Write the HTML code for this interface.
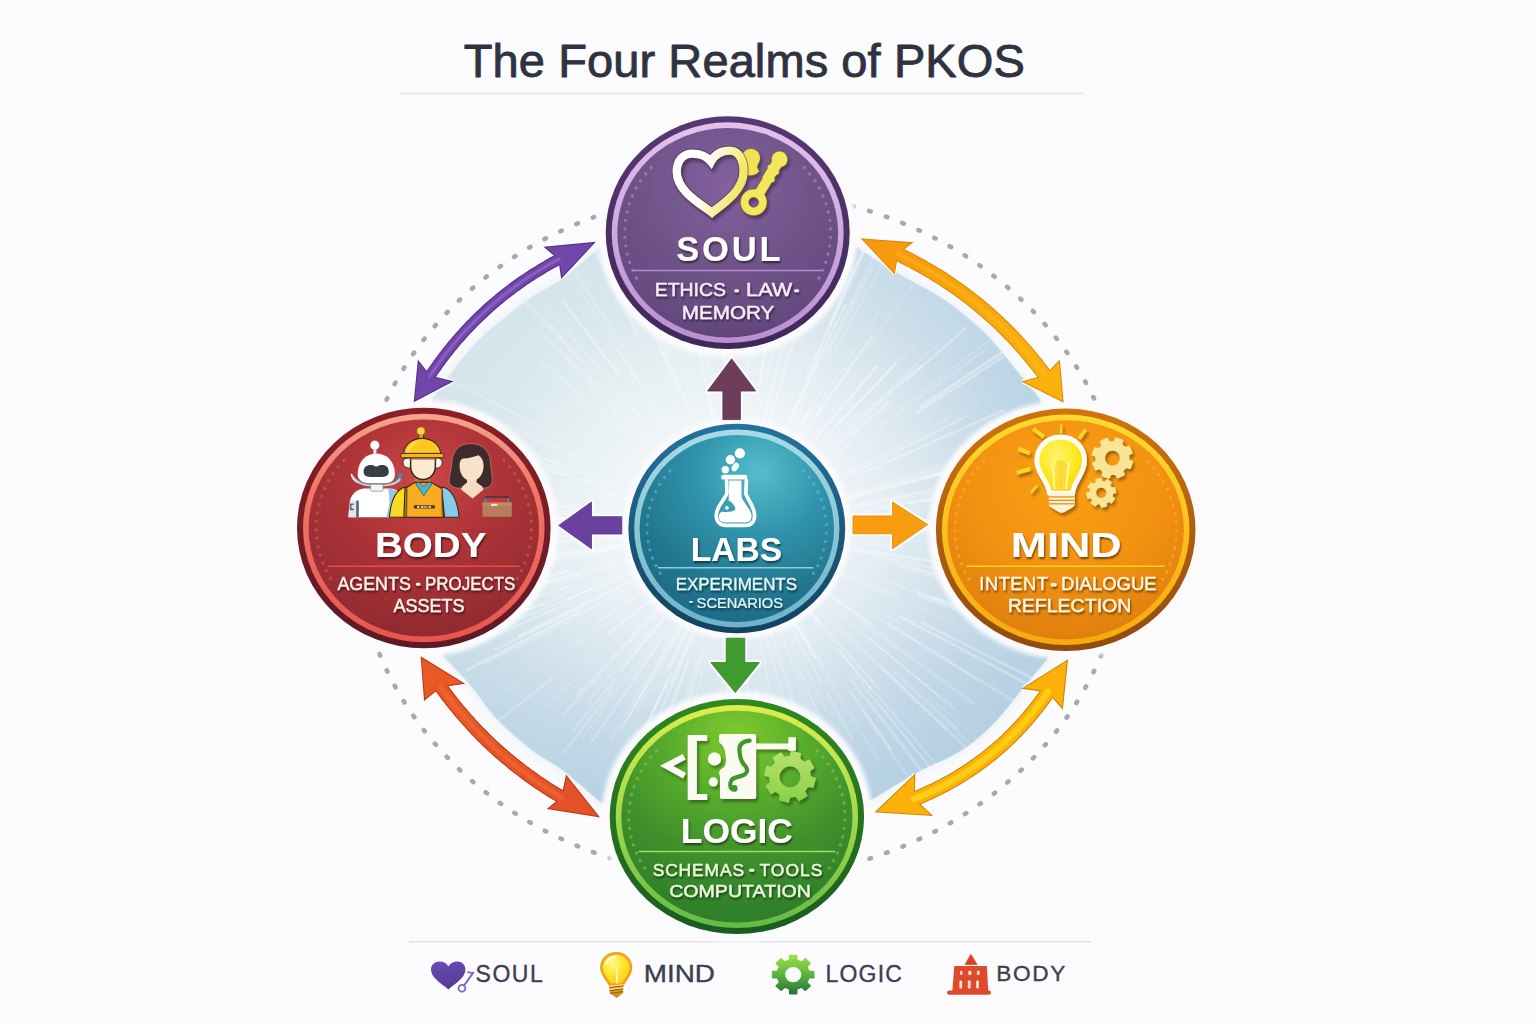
<!DOCTYPE html>
<html lang="en">
<head>
<meta charset="utf-8">
<title>The Four Realms of PKOS</title>
<style>
html,body{margin:0;padding:0;background:#fcfbfd;}
body{width:1536px;height:1024px;overflow:hidden;font-family:"Liberation Sans",sans-serif;}
svg{display:block;}
text{font-family:"Liberation Sans",sans-serif;}
</style>
</head>
<body>
<svg width="1536" height="1024" viewBox="0 0 1536 1024">
<defs>
<radialGradient id="bgGlow" gradientUnits="userSpaceOnUse" cx="737" cy="530" r="335" gradientTransform="translate(0 54.5) scale(1 0.897)">
  <stop offset="0" stop-color="#f8fafc"/>
  <stop offset="0.40" stop-color="#f0f5f8"/>
  <stop offset="0.60" stop-color="#e2ecf2"/>
  <stop offset="0.80" stop-color="#cfe0eb"/>
  <stop offset="1" stop-color="#c0d7e6"/>
</radialGradient>
<filter id="soft" x="-10%" y="-10%" width="120%" height="120%"><feGaussianBlur stdDeviation="3"/></filter>
<linearGradient id="nwLight" gradientUnits="userSpaceOnUse" x1="470" y1="290" x2="980" y2="760">
  <stop offset="0" stop-color="#e6f2ee" stop-opacity="0.55"/>
  <stop offset="0.45" stop-color="#eef6f4" stop-opacity="0.2"/>
  <stop offset="0.7" stop-color="#ffffff" stop-opacity="0"/>
</linearGradient>
<linearGradient id="southBlue" gradientUnits="userSpaceOnUse" x1="0" y1="540" x2="0" y2="820">
  <stop offset="0" stop-color="#a8c8de" stop-opacity="0"/>
  <stop offset="1" stop-color="#a8c8de" stop-opacity="0.5"/>
</linearGradient>
<linearGradient id="eastBlue" gradientUnits="userSpaceOnUse" x1="760" y1="0" x2="1060" y2="0">
  <stop offset="0" stop-color="#a8c8de" stop-opacity="0"/>
  <stop offset="1" stop-color="#a8c8de" stop-opacity="0.3"/>
</linearGradient>
<filter id="soft2" x="-10%" y="-10%" width="120%" height="120%"><feGaussianBlur stdDeviation="2.2"/></filter>
<filter id="halo" x="-20%" y="-20%" width="140%" height="140%"><feGaussianBlur stdDeviation="5"/></filter>
<filter id="blur05" x="-5%" y="-5%" width="110%" height="110%"><feGaussianBlur stdDeviation="0.7"/></filter>
<filter id="blur1" x="-20%" y="-20%" width="140%" height="140%"><feGaussianBlur stdDeviation="1.2"/></filter>
<filter id="blur2" x="-20%" y="-20%" width="140%" height="140%"><feGaussianBlur stdDeviation="2"/></filter>
<filter id="tsh" x="-10%" y="-20%" width="120%" height="150%">
  <feGaussianBlur in="SourceAlpha" stdDeviation="0.8"/><feOffset dx="1.2" dy="1.6"/>
  <feComponentTransfer><feFuncA type="linear" slope="0.55"/></feComponentTransfer>
  <feMerge><feMergeNode/><feMergeNode in="SourceGraphic"/></feMerge>
</filter>
<filter id="ish" x="-20%" y="-20%" width="150%" height="150%">
  <feGaussianBlur in="SourceAlpha" stdDeviation="1.5"/><feOffset dx="2" dy="3"/>
  <feComponentTransfer><feFuncA type="linear" slope="0.35"/></feComponentTransfer>
  <feMerge><feMergeNode/><feMergeNode in="SourceGraphic"/></feMerge>
</filter>

<!-- badge fills -->
<radialGradient id="gSoul" cx="0.5" cy="0.28" r="0.8"><stop offset="0" stop-color="#83609f"/><stop offset="0.45" stop-color="#71558a"/><stop offset="0.8" stop-color="#664a80"/><stop offset="1" stop-color="#5a4076"/></radialGradient>
<radialGradient id="gBody" cx="0.5" cy="0.28" r="0.8"><stop offset="0" stop-color="#cd4746"/><stop offset="0.4" stop-color="#ae3438"/><stop offset="0.75" stop-color="#9b2e33"/><stop offset="1" stop-color="#88282c"/></radialGradient>
<radialGradient id="gMind" cx="0.5" cy="0.28" r="0.8"><stop offset="0" stop-color="#f9a014"/><stop offset="0.5" stop-color="#f39211"/><stop offset="0.85" stop-color="#e3820e"/><stop offset="1" stop-color="#d2780c"/></radialGradient>
<radialGradient id="gLogic" cx="0.5" cy="0.12" r="0.95"><stop offset="0" stop-color="#7fcb2d"/><stop offset="0.3" stop-color="#59ae2c"/><stop offset="0.6" stop-color="#3f902c"/><stop offset="1" stop-color="#2b7a2a"/></radialGradient>
<radialGradient id="gLabs" cx="0.62" cy="0.2" r="0.85"><stop offset="0" stop-color="#54bdcd"/><stop offset="0.4" stop-color="#2f93ab"/><stop offset="0.75" stop-color="#23778f"/><stop offset="1" stop-color="#1c6a88"/></radialGradient>
<!-- light rings -->
<linearGradient id="rSoul" x1="0" y1="0" x2="0" y2="1"><stop offset="0" stop-color="#e3c2ee"/><stop offset="1" stop-color="#b98fd0"/></linearGradient>
<linearGradient id="rBody" x1="0" y1="0" x2="0" y2="1"><stop offset="0" stop-color="#f5a48c"/><stop offset="0.35" stop-color="#f07468"/><stop offset="1" stop-color="#e8544e"/></linearGradient>
<linearGradient id="rMind" x1="0" y1="0" x2="0" y2="1"><stop offset="0" stop-color="#ffd830"/><stop offset="1" stop-color="#f8a80e"/></linearGradient>
<linearGradient id="rLogic" x1="0" y1="0" x2="0" y2="1"><stop offset="0" stop-color="#dbee4c"/><stop offset="0.5" stop-color="#a2da4c"/><stop offset="1" stop-color="#62ba46"/></linearGradient>
<linearGradient id="rLabs" x1="0" y1="0" x2="0" y2="1"><stop offset="0" stop-color="#a8dbe6"/><stop offset="1" stop-color="#6fb3c9"/></linearGradient>
<linearGradient id="dSoul" x1="0" y1="0" x2="0" y2="1"><stop offset="0" stop-color="#563872"/><stop offset="1" stop-color="#3f2859"/></linearGradient>
<linearGradient id="dBody" x1="0" y1="0" x2="0" y2="1"><stop offset="0" stop-color="#8e1e26"/><stop offset="1" stop-color="#5c1a25"/></linearGradient>
<linearGradient id="dMind" x1="0" y1="0" x2="0" y2="1"><stop offset="0" stop-color="#d0740b"/><stop offset="1" stop-color="#8e4b0e"/></linearGradient>
<linearGradient id="dLogic" x1="0" y1="0" x2="0" y2="1"><stop offset="0" stop-color="#30891f"/><stop offset="1" stop-color="#1a5c1f"/></linearGradient>
<linearGradient id="dLabs" x1="0" y1="0" x2="0" y2="1"><stop offset="0" stop-color="#2472a0"/><stop offset="1" stop-color="#12425f"/></linearGradient>
<!-- arrows -->
<linearGradient id="aPurple" x1="0" y1="0" x2="0" y2="1"><stop offset="0" stop-color="#8052b4"/><stop offset="1" stop-color="#5b3a98"/></linearGradient>
<linearGradient id="aOrange" gradientUnits="userSpaceOnUse" x1="863" y1="240" x2="1062" y2="400"><stop offset="0" stop-color="#f7960f"/><stop offset="0.5" stop-color="#f9a60c"/><stop offset="1" stop-color="#fbb40c"/></linearGradient>
<linearGradient id="aRed" gradientUnits="userSpaceOnUse" x1="423" y1="658" x2="597" y2="816"><stop offset="0" stop-color="#ea5a24"/><stop offset="1" stop-color="#e4502a"/></linearGradient>
<linearGradient id="aYellow" gradientUnits="userSpaceOnUse" x1="1066" y1="661" x2="877" y2="812"><stop offset="0" stop-color="#f9a50d"/><stop offset="0.5" stop-color="#fcc512"/><stop offset="1" stop-color="#f8a40c"/></linearGradient>
<!-- icons -->
<linearGradient id="heartStroke" gradientUnits="userSpaceOnUse" x1="690" y1="165" x2="744" y2="182"><stop offset="0" stop-color="#ffffff"/><stop offset="0.35" stop-color="#fffdf0"/><stop offset="0.62" stop-color="#faf3a8"/><stop offset="1" stop-color="#f1e75e"/></linearGradient>
<linearGradient id="gearLg" x1="0" y1="0" x2="0" y2="1"><stop offset="0" stop-color="#9be04a"/><stop offset="0.5" stop-color="#5cb43c"/><stop offset="1" stop-color="#24733a"/></linearGradient>
<radialGradient id="bulbLg" cx="0.42" cy="0.32" r="0.75"><stop offset="0" stop-color="#fff46e"/><stop offset="0.55" stop-color="#fde81c"/><stop offset="1" stop-color="#fbcf12"/></radialGradient>
<linearGradient id="gearLogic" x1="0" y1="0" x2="0" y2="1"><stop offset="0" stop-color="#b6e26c"/><stop offset="1" stop-color="#8cd048"/></linearGradient>
</defs>
<rect width="1536" height="1024" fill="#fcfbfd"/>
<line x1="400" y1="93.5" x2="1084" y2="93.5" stroke="#e4e3e8" stroke-width="1.4"/>
<line x1="409" y1="941.8" x2="1091" y2="941.8" stroke="#e2e1e6" stroke-width="1.6"/>
<clipPath id="clipField"><path d="M432.1 399.4  C436.1 393.8 448.5 375.9 456.2 366.0 C463.9 356.1 470.1 348.4 478.5 340.0 C486.9 331.6 497.0 323.3 506.3 315.9 C515.6 308.5 524.8 301.7 534.1 295.5 C543.4 289.3 551.5 286.5 562.0 278.8 C572.5 271.1 591.3 254.1 597.2 249.1 L856.9 247.3 C864.3 251.9 886.9 266.5 901.4 275.1 C915.9 283.8 930.1 289.6 944.0 299.2 C957.9 308.8 972.7 320.9 984.8 332.6 C996.9 344.4 1007.1 358.6 1016.4 369.7 C1025.7 380.8 1036.5 394.4 1040.5 399.4 L1048.6 658.0 C1044.0 663.6 1029.8 680.6 1020.8 691.4 C1011.8 702.2 1004.7 713.0 994.8 722.9 C984.9 732.8 974.5 742.4 961.5 750.7 C948.5 759.1 932.0 764.6 916.9 773.0 C901.8 781.4 878.3 796.2 870.6 800.8 L600.3 802.7 C594.1 797.4 575.0 780.1 563.2 771.1 C551.5 762.1 540.9 757.5 529.8 748.9 C518.7 740.2 506.4 729.7 496.5 719.2 C486.6 708.7 479.5 696.3 470.5 685.8 C461.5 675.3 447.3 661.0 442.7 656.1 Z"/></clipPath>
<g>
<path d="M432.1 399.4  C436.1 393.8 448.5 375.9 456.2 366.0 C463.9 356.1 470.1 348.4 478.5 340.0 C486.9 331.6 497.0 323.3 506.3 315.9 C515.6 308.5 524.8 301.7 534.1 295.5 C543.4 289.3 551.5 286.5 562.0 278.8 C572.5 271.1 591.3 254.1 597.2 249.1 L856.9 247.3 C864.3 251.9 886.9 266.5 901.4 275.1 C915.9 283.8 930.1 289.6 944.0 299.2 C957.9 308.8 972.7 320.9 984.8 332.6 C996.9 344.4 1007.1 358.6 1016.4 369.7 C1025.7 380.8 1036.5 394.4 1040.5 399.4 L1048.6 658.0 C1044.0 663.6 1029.8 680.6 1020.8 691.4 C1011.8 702.2 1004.7 713.0 994.8 722.9 C984.9 732.8 974.5 742.4 961.5 750.7 C948.5 759.1 932.0 764.6 916.9 773.0 C901.8 781.4 878.3 796.2 870.6 800.8 L600.3 802.7 C594.1 797.4 575.0 780.1 563.2 771.1 C551.5 762.1 540.9 757.5 529.8 748.9 C518.7 740.2 506.4 729.7 496.5 719.2 C486.6 708.7 479.5 696.3 470.5 685.8 C461.5 675.3 447.3 661.0 442.7 656.1 Z" fill="#f1f5f8" stroke="#f1f5f8" stroke-width="10" stroke-linejoin="round" filter="url(#halo)"/>
<g clip-path="url(#clipField)">
<g filter="url(#blur1)">
<path d="M432.1 399.4  C436.1 393.8 448.5 375.9 456.2 366.0 C463.9 356.1 470.1 348.4 478.5 340.0 C486.9 331.6 497.0 323.3 506.3 315.9 C515.6 308.5 524.8 301.7 534.1 295.5 C543.4 289.3 551.5 286.5 562.0 278.8 C572.5 271.1 591.3 254.1 597.2 249.1 L856.9 247.3 C864.3 251.9 886.9 266.5 901.4 275.1 C915.9 283.8 930.1 289.6 944.0 299.2 C957.9 308.8 972.7 320.9 984.8 332.6 C996.9 344.4 1007.1 358.6 1016.4 369.7 C1025.7 380.8 1036.5 394.4 1040.5 399.4 L1048.6 658.0 C1044.0 663.6 1029.8 680.6 1020.8 691.4 C1011.8 702.2 1004.7 713.0 994.8 722.9 C984.9 732.8 974.5 742.4 961.5 750.7 C948.5 759.1 932.0 764.6 916.9 773.0 C901.8 781.4 878.3 796.2 870.6 800.8 L600.3 802.7 C594.1 797.4 575.0 780.1 563.2 771.1 C551.5 762.1 540.9 757.5 529.8 748.9 C518.7 740.2 506.4 729.7 496.5 719.2 C486.6 708.7 479.5 696.3 470.5 685.8 C461.5 675.3 447.3 661.0 442.7 656.1 Z" fill="url(#bgGlow)" stroke="url(#bgGlow)" stroke-width="1"/>
<path d="M432.1 399.4  C436.1 393.8 448.5 375.9 456.2 366.0 C463.9 356.1 470.1 348.4 478.5 340.0 C486.9 331.6 497.0 323.3 506.3 315.9 C515.6 308.5 524.8 301.7 534.1 295.5 C543.4 289.3 551.5 286.5 562.0 278.8 C572.5 271.1 591.3 254.1 597.2 249.1 L856.9 247.3 C864.3 251.9 886.9 266.5 901.4 275.1 C915.9 283.8 930.1 289.6 944.0 299.2 C957.9 308.8 972.7 320.9 984.8 332.6 C996.9 344.4 1007.1 358.6 1016.4 369.7 C1025.7 380.8 1036.5 394.4 1040.5 399.4 L1048.6 658.0 C1044.0 663.6 1029.8 680.6 1020.8 691.4 C1011.8 702.2 1004.7 713.0 994.8 722.9 C984.9 732.8 974.5 742.4 961.5 750.7 C948.5 759.1 932.0 764.6 916.9 773.0 C901.8 781.4 878.3 796.2 870.6 800.8 L600.3 802.7 C594.1 797.4 575.0 780.1 563.2 771.1 C551.5 762.1 540.9 757.5 529.8 748.9 C518.7 740.2 506.4 729.7 496.5 719.2 C486.6 708.7 479.5 696.3 470.5 685.8 C461.5 675.3 447.3 661.0 442.7 656.1 Z" fill="url(#nwLight)"/>
<path d="M432.1 399.4  C436.1 393.8 448.5 375.9 456.2 366.0 C463.9 356.1 470.1 348.4 478.5 340.0 C486.9 331.6 497.0 323.3 506.3 315.9 C515.6 308.5 524.8 301.7 534.1 295.5 C543.4 289.3 551.5 286.5 562.0 278.8 C572.5 271.1 591.3 254.1 597.2 249.1 L856.9 247.3 C864.3 251.9 886.9 266.5 901.4 275.1 C915.9 283.8 930.1 289.6 944.0 299.2 C957.9 308.8 972.7 320.9 984.8 332.6 C996.9 344.4 1007.1 358.6 1016.4 369.7 C1025.7 380.8 1036.5 394.4 1040.5 399.4 L1048.6 658.0 C1044.0 663.6 1029.8 680.6 1020.8 691.4 C1011.8 702.2 1004.7 713.0 994.8 722.9 C984.9 732.8 974.5 742.4 961.5 750.7 C948.5 759.1 932.0 764.6 916.9 773.0 C901.8 781.4 878.3 796.2 870.6 800.8 L600.3 802.7 C594.1 797.4 575.0 780.1 563.2 771.1 C551.5 762.1 540.9 757.5 529.8 748.9 C518.7 740.2 506.4 729.7 496.5 719.2 C486.6 708.7 479.5 696.3 470.5 685.8 C461.5 675.3 447.3 661.0 442.7 656.1 Z" fill="url(#southBlue)"/>
<path d="M432.1 399.4  C436.1 393.8 448.5 375.9 456.2 366.0 C463.9 356.1 470.1 348.4 478.5 340.0 C486.9 331.6 497.0 323.3 506.3 315.9 C515.6 308.5 524.8 301.7 534.1 295.5 C543.4 289.3 551.5 286.5 562.0 278.8 C572.5 271.1 591.3 254.1 597.2 249.1 L856.9 247.3 C864.3 251.9 886.9 266.5 901.4 275.1 C915.9 283.8 930.1 289.6 944.0 299.2 C957.9 308.8 972.7 320.9 984.8 332.6 C996.9 344.4 1007.1 358.6 1016.4 369.7 C1025.7 380.8 1036.5 394.4 1040.5 399.4 L1048.6 658.0 C1044.0 663.6 1029.8 680.6 1020.8 691.4 C1011.8 702.2 1004.7 713.0 994.8 722.9 C984.9 732.8 974.5 742.4 961.5 750.7 C948.5 759.1 932.0 764.6 916.9 773.0 C901.8 781.4 878.3 796.2 870.6 800.8 L600.3 802.7 C594.1 797.4 575.0 780.1 563.2 771.1 C551.5 762.1 540.9 757.5 529.8 748.9 C518.7 740.2 506.4 729.7 496.5 719.2 C486.6 708.7 479.5 696.3 470.5 685.8 C461.5 675.3 447.3 661.0 442.7 656.1 Z" fill="url(#eastBlue)"/>
</g>
<g filter="url(#blur05)"><line x1="693.5" y1="608.2" x2="636.2" y2="711.3" stroke="#ffffff" stroke-width="1.2" stroke-opacity="0.23" stroke-linecap="round"/><line x1="683.5" y1="584.1" x2="609.8" y2="658.7" stroke="#ffffff" stroke-width="1.1" stroke-opacity="0.20" stroke-linecap="round"/><line x1="815.1" y1="563.0" x2="906.5" y2="601.6" stroke="#ffffff" stroke-width="3.0" stroke-opacity="0.13" stroke-linecap="round"/><line x1="767.6" y1="692.3" x2="794.7" y2="836.1" stroke="#ffffff" stroke-width="2.4" stroke-opacity="0.20" stroke-linecap="round"/><line x1="814.5" y1="519.5" x2="965.8" y2="499.0" stroke="#ffffff" stroke-width="1.7" stroke-opacity="0.13" stroke-linecap="round"/><line x1="829.7" y1="606.2" x2="938.9" y2="696.0" stroke="#ffffff" stroke-width="1.4" stroke-opacity="0.24" stroke-linecap="round"/><line x1="648.9" y1="435.5" x2="574.6" y2="355.7" stroke="#ffffff" stroke-width="1.2" stroke-opacity="0.11" stroke-linecap="round"/><line x1="789.6" y1="696.6" x2="817.3" y2="784.3" stroke="#ffffff" stroke-width="1.8" stroke-opacity="0.24" stroke-linecap="round"/><line x1="618.4" y1="562.3" x2="479.3" y2="600.3" stroke="#ffffff" stroke-width="2.7" stroke-opacity="0.16" stroke-linecap="round"/><line x1="590.1" y1="463.3" x2="451.8" y2="400.4" stroke="#ffffff" stroke-width="2.8" stroke-opacity="0.17" stroke-linecap="round"/><line x1="827.5" y1="519.8" x2="926.9" y2="508.6" stroke="#ffffff" stroke-width="2.8" stroke-opacity="0.14" stroke-linecap="round"/><line x1="660.1" y1="534.8" x2="530.3" y2="542.9" stroke="#ffffff" stroke-width="2.8" stroke-opacity="0.24" stroke-linecap="round"/><line x1="826.7" y1="449.8" x2="921.3" y2="365.1" stroke="#ffffff" stroke-width="2.4" stroke-opacity="0.24" stroke-linecap="round"/><line x1="524.1" y1="584.1" x2="405.0" y2="614.4" stroke="#ffffff" stroke-width="2.1" stroke-opacity="0.26" stroke-linecap="round"/><line x1="919.2" y1="595.7" x2="1037.7" y2="638.5" stroke="#ffffff" stroke-width="3.4" stroke-opacity="0.30" stroke-linecap="round"/><line x1="706.9" y1="652.5" x2="678.8" y2="767.0" stroke="#ffffff" stroke-width="1.1" stroke-opacity="0.21" stroke-linecap="round"/><line x1="781.9" y1="601.3" x2="810.0" y2="646.0" stroke="#ffffff" stroke-width="2.8" stroke-opacity="0.13" stroke-linecap="round"/><line x1="739.1" y1="656.3" x2="741.4" y2="795.4" stroke="#ffffff" stroke-width="1.2" stroke-opacity="0.21" stroke-linecap="round"/><line x1="519.0" y1="467.0" x2="408.5" y2="435.1" stroke="#ffffff" stroke-width="3.1" stroke-opacity="0.17" stroke-linecap="round"/><line x1="621.0" y1="591.5" x2="486.5" y2="662.8" stroke="#ffffff" stroke-width="3.3" stroke-opacity="0.14" stroke-linecap="round"/><line x1="787.0" y1="620.0" x2="821.8" y2="682.8" stroke="#ffffff" stroke-width="2.2" stroke-opacity="0.24" stroke-linecap="round"/><line x1="731.3" y1="593.5" x2="723.3" y2="683.4" stroke="#ffffff" stroke-width="1.9" stroke-opacity="0.24" stroke-linecap="round"/><line x1="922.9" y1="479.2" x2="1030.0" y2="450.0" stroke="#ffffff" stroke-width="2.5" stroke-opacity="0.26" stroke-linecap="round"/><line x1="955.7" y1="599.5" x2="1062.3" y2="633.3" stroke="#ffffff" stroke-width="3.1" stroke-opacity="0.29" stroke-linecap="round"/><line x1="626.4" y1="609.9" x2="577.7" y2="645.0" stroke="#ffffff" stroke-width="2.5" stroke-opacity="0.11" stroke-linecap="round"/><line x1="835.1" y1="569.8" x2="898.4" y2="595.4" stroke="#ffffff" stroke-width="1.8" stroke-opacity="0.11" stroke-linecap="round"/><line x1="834.2" y1="530.1" x2="896.4" y2="530.2" stroke="#ffffff" stroke-width="1.9" stroke-opacity="0.11" stroke-linecap="round"/><line x1="864.1" y1="414.6" x2="911.9" y2="371.3" stroke="#ffffff" stroke-width="1.6" stroke-opacity="0.18" stroke-linecap="round"/><line x1="676.4" y1="592.5" x2="576.6" y2="695.5" stroke="#ffffff" stroke-width="3.4" stroke-opacity="0.21" stroke-linecap="round"/><line x1="652.0" y1="537.8" x2="590.0" y2="543.5" stroke="#ffffff" stroke-width="1.8" stroke-opacity="0.16" stroke-linecap="round"/><line x1="784.1" y1="451.6" x2="809.2" y2="409.8" stroke="#ffffff" stroke-width="3.3" stroke-opacity="0.23" stroke-linecap="round"/><line x1="838.5" y1="650.2" x2="870.7" y2="688.4" stroke="#ffffff" stroke-width="2.3" stroke-opacity="0.33" stroke-linecap="round"/><line x1="864.6" y1="396.9" x2="917.8" y2="341.5" stroke="#ffffff" stroke-width="1.9" stroke-opacity="0.14" stroke-linecap="round"/><line x1="759.8" y1="382.1" x2="779.5" y2="254.2" stroke="#ffffff" stroke-width="1.8" stroke-opacity="0.15" stroke-linecap="round"/><line x1="830.2" y1="323.9" x2="867.0" y2="242.4" stroke="#ffffff" stroke-width="2.9" stroke-opacity="0.30" stroke-linecap="round"/><line x1="730.0" y1="430.5" x2="722.8" y2="329.8" stroke="#ffffff" stroke-width="1.9" stroke-opacity="0.11" stroke-linecap="round"/><line x1="855.4" y1="548.9" x2="935.3" y2="561.7" stroke="#ffffff" stroke-width="2.7" stroke-opacity="0.33" stroke-linecap="round"/><line x1="511.3" y1="599.9" x2="410.8" y2="631.1" stroke="#ffffff" stroke-width="3.3" stroke-opacity="0.19" stroke-linecap="round"/><line x1="757.5" y1="628.0" x2="771.0" y2="693.1" stroke="#ffffff" stroke-width="1.5" stroke-opacity="0.25" stroke-linecap="round"/><line x1="916.3" y1="413.3" x2="1003.4" y2="356.5" stroke="#ffffff" stroke-width="2.6" stroke-opacity="0.29" stroke-linecap="round"/><line x1="899.7" y1="616.3" x2="1034.2" y2="687.7" stroke="#ffffff" stroke-width="2.9" stroke-opacity="0.28" stroke-linecap="round"/><line x1="635.8" y1="542.6" x2="492.5" y2="560.6" stroke="#ffffff" stroke-width="1.8" stroke-opacity="0.29" stroke-linecap="round"/><line x1="876.0" y1="507.5" x2="972.6" y2="491.8" stroke="#ffffff" stroke-width="3.3" stroke-opacity="0.27" stroke-linecap="round"/><line x1="781.7" y1="603.2" x2="814.6" y2="657.0" stroke="#ffffff" stroke-width="3.2" stroke-opacity="0.29" stroke-linecap="round"/><line x1="869.8" y1="686.5" x2="946.4" y2="776.7" stroke="#ffffff" stroke-width="2.6" stroke-opacity="0.18" stroke-linecap="round"/><line x1="647.8" y1="504.7" x2="598.5" y2="490.6" stroke="#ffffff" stroke-width="3.3" stroke-opacity="0.26" stroke-linecap="round"/><line x1="502.3" y1="494.4" x2="401.6" y2="479.1" stroke="#ffffff" stroke-width="3.1" stroke-opacity="0.30" stroke-linecap="round"/><line x1="764.9" y1="630.7" x2="785.6" y2="705.1" stroke="#ffffff" stroke-width="1.6" stroke-opacity="0.24" stroke-linecap="round"/><line x1="728.4" y1="660.7" x2="724.6" y2="719.7" stroke="#ffffff" stroke-width="3.2" stroke-opacity="0.18" stroke-linecap="round"/><line x1="568.0" y1="570.9" x2="414.9" y2="608.0" stroke="#ffffff" stroke-width="2.0" stroke-opacity="0.32" stroke-linecap="round"/><line x1="571.3" y1="528.5" x2="458.5" y2="527.4" stroke="#ffffff" stroke-width="1.0" stroke-opacity="0.21" stroke-linecap="round"/><line x1="765.9" y1="588.1" x2="825.4" y2="708.0" stroke="#ffffff" stroke-width="1.4" stroke-opacity="0.21" stroke-linecap="round"/><line x1="710.6" y1="378.7" x2="696.8" y2="299.5" stroke="#ffffff" stroke-width="2.2" stroke-opacity="0.23" stroke-linecap="round"/><line x1="756.0" y1="451.7" x2="781.1" y2="348.6" stroke="#ffffff" stroke-width="1.6" stroke-opacity="0.17" stroke-linecap="round"/><line x1="759.5" y1="386.2" x2="775.9" y2="281.5" stroke="#ffffff" stroke-width="2.8" stroke-opacity="0.32" stroke-linecap="round"/><line x1="568.1" y1="586.6" x2="464.4" y2="621.4" stroke="#ffffff" stroke-width="2.2" stroke-opacity="0.27" stroke-linecap="round"/><line x1="578.4" y1="574.1" x2="475.8" y2="602.6" stroke="#ffffff" stroke-width="3.3" stroke-opacity="0.27" stroke-linecap="round"/><line x1="908.0" y1="379.0" x2="966.0" y2="327.9" stroke="#ffffff" stroke-width="2.3" stroke-opacity="0.33" stroke-linecap="round"/><line x1="787.7" y1="458.0" x2="822.3" y2="409.0" stroke="#ffffff" stroke-width="2.1" stroke-opacity="0.12" stroke-linecap="round"/><line x1="741.9" y1="604.7" x2="749.6" y2="721.8" stroke="#ffffff" stroke-width="2.9" stroke-opacity="0.32" stroke-linecap="round"/><line x1="849.4" y1="677.7" x2="922.4" y2="773.7" stroke="#ffffff" stroke-width="1.3" stroke-opacity="0.31" stroke-linecap="round"/><line x1="844.3" y1="510.0" x2="1005.2" y2="480.1" stroke="#ffffff" stroke-width="2.0" stroke-opacity="0.22" stroke-linecap="round"/><line x1="956.4" y1="517.4" x2="1025.6" y2="513.4" stroke="#ffffff" stroke-width="2.0" stroke-opacity="0.22" stroke-linecap="round"/><line x1="681.1" y1="610.2" x2="634.2" y2="677.5" stroke="#ffffff" stroke-width="2.7" stroke-opacity="0.10" stroke-linecap="round"/><line x1="596.2" y1="485.2" x2="547.1" y2="469.6" stroke="#ffffff" stroke-width="1.8" stroke-opacity="0.25" stroke-linecap="round"/><line x1="655.7" y1="524.3" x2="488.0" y2="512.7" stroke="#ffffff" stroke-width="2.9" stroke-opacity="0.33" stroke-linecap="round"/><line x1="830.2" y1="594.9" x2="873.5" y2="625.0" stroke="#ffffff" stroke-width="2.9" stroke-opacity="0.16" stroke-linecap="round"/><line x1="837.2" y1="625.5" x2="946.7" y2="729.8" stroke="#ffffff" stroke-width="3.0" stroke-opacity="0.16" stroke-linecap="round"/><line x1="876.1" y1="700.9" x2="940.9" y2="780.5" stroke="#ffffff" stroke-width="2.7" stroke-opacity="0.12" stroke-linecap="round"/><line x1="918.3" y1="591.7" x2="1012.9" y2="623.9" stroke="#ffffff" stroke-width="1.2" stroke-opacity="0.33" stroke-linecap="round"/><line x1="594.7" y1="385.8" x2="554.9" y2="345.4" stroke="#ffffff" stroke-width="3.1" stroke-opacity="0.12" stroke-linecap="round"/><line x1="835.7" y1="426.3" x2="894.7" y2="364.4" stroke="#ffffff" stroke-width="2.3" stroke-opacity="0.32" stroke-linecap="round"/><line x1="726.6" y1="613.4" x2="713.9" y2="714.7" stroke="#ffffff" stroke-width="1.6" stroke-opacity="0.13" stroke-linecap="round"/><line x1="778.8" y1="590.4" x2="818.0" y2="647.1" stroke="#ffffff" stroke-width="1.7" stroke-opacity="0.17" stroke-linecap="round"/><line x1="744.3" y1="420.2" x2="750.8" y2="321.4" stroke="#ffffff" stroke-width="1.4" stroke-opacity="0.18" stroke-linecap="round"/><line x1="851.3" y1="541.8" x2="902.8" y2="547.1" stroke="#ffffff" stroke-width="2.8" stroke-opacity="0.23" stroke-linecap="round"/><line x1="794.7" y1="659.9" x2="854.9" y2="795.4" stroke="#ffffff" stroke-width="1.3" stroke-opacity="0.30" stroke-linecap="round"/><line x1="592.1" y1="589.2" x2="455.4" y2="645.0" stroke="#ffffff" stroke-width="1.9" stroke-opacity="0.22" stroke-linecap="round"/><line x1="642.9" y1="324.6" x2="608.1" y2="248.8" stroke="#ffffff" stroke-width="3.0" stroke-opacity="0.27" stroke-linecap="round"/><line x1="643.2" y1="433.0" x2="583.0" y2="370.8" stroke="#ffffff" stroke-width="1.1" stroke-opacity="0.13" stroke-linecap="round"/><line x1="920.6" y1="608.7" x2="993.4" y2="639.9" stroke="#ffffff" stroke-width="1.4" stroke-opacity="0.12" stroke-linecap="round"/><line x1="860.0" y1="358.6" x2="924.2" y2="269.2" stroke="#ffffff" stroke-width="1.7" stroke-opacity="0.16" stroke-linecap="round"/><line x1="696.2" y1="662.4" x2="677.8" y2="722.2" stroke="#ffffff" stroke-width="2.1" stroke-opacity="0.16" stroke-linecap="round"/><line x1="975.0" y1="477.5" x2="1072.1" y2="456.2" stroke="#ffffff" stroke-width="1.6" stroke-opacity="0.33" stroke-linecap="round"/><line x1="688.0" y1="642.4" x2="669.6" y2="684.4" stroke="#ffffff" stroke-width="1.9" stroke-opacity="0.21" stroke-linecap="round"/><line x1="630.8" y1="528.3" x2="520.3" y2="526.6" stroke="#ffffff" stroke-width="1.0" stroke-opacity="0.16" stroke-linecap="round"/><line x1="856.9" y1="598.3" x2="903.4" y2="624.7" stroke="#ffffff" stroke-width="1.1" stroke-opacity="0.17" stroke-linecap="round"/><line x1="755.9" y1="686.9" x2="768.1" y2="788.5" stroke="#ffffff" stroke-width="2.8" stroke-opacity="0.26" stroke-linecap="round"/><line x1="688.6" y1="329.3" x2="668.1" y2="244.2" stroke="#ffffff" stroke-width="1.8" stroke-opacity="0.34" stroke-linecap="round"/><line x1="855.3" y1="675.5" x2="930.4" y2="767.9" stroke="#ffffff" stroke-width="1.1" stroke-opacity="0.30" stroke-linecap="round"/><line x1="879.4" y1="426.6" x2="986.8" y2="348.6" stroke="#ffffff" stroke-width="2.9" stroke-opacity="0.13" stroke-linecap="round"/><line x1="578.0" y1="508.5" x2="429.5" y2="488.4" stroke="#ffffff" stroke-width="2.9" stroke-opacity="0.30" stroke-linecap="round"/><line x1="537.7" y1="425.4" x2="439.0" y2="373.5" stroke="#ffffff" stroke-width="2.7" stroke-opacity="0.16" stroke-linecap="round"/><line x1="829.2" y1="546.5" x2="920.7" y2="562.8" stroke="#ffffff" stroke-width="1.3" stroke-opacity="0.30" stroke-linecap="round"/><line x1="566.2" y1="470.8" x2="449.5" y2="430.3" stroke="#ffffff" stroke-width="2.6" stroke-opacity="0.22" stroke-linecap="round"/><line x1="950.5" y1="534.0" x2="1081.9" y2="536.5" stroke="#ffffff" stroke-width="2.2" stroke-opacity="0.23" stroke-linecap="round"/><line x1="692.8" y1="467.9" x2="618.1" y2="363.1" stroke="#ffffff" stroke-width="1.6" stroke-opacity="0.12" stroke-linecap="round"/><line x1="717.4" y1="710.3" x2="710.1" y2="777.1" stroke="#ffffff" stroke-width="2.8" stroke-opacity="0.33" stroke-linecap="round"/><line x1="598.2" y1="534.8" x2="490.8" y2="538.4" stroke="#ffffff" stroke-width="2.6" stroke-opacity="0.28" stroke-linecap="round"/><line x1="599.2" y1="417.9" x2="555.3" y2="382.1" stroke="#ffffff" stroke-width="1.4" stroke-opacity="0.16" stroke-linecap="round"/><line x1="731.7" y1="417.8" x2="726.7" y2="311.6" stroke="#ffffff" stroke-width="1.0" stroke-opacity="0.11" stroke-linecap="round"/><line x1="714.5" y1="700.7" x2="698.9" y2="819.6" stroke="#ffffff" stroke-width="2.6" stroke-opacity="0.17" stroke-linecap="round"/><line x1="584.2" y1="515.7" x2="478.8" y2="505.8" stroke="#ffffff" stroke-width="1.3" stroke-opacity="0.31" stroke-linecap="round"/><line x1="814.1" y1="740.3" x2="845.2" y2="824.8" stroke="#ffffff" stroke-width="1.0" stroke-opacity="0.21" stroke-linecap="round"/><line x1="840.9" y1="331.0" x2="883.7" y2="249.0" stroke="#ffffff" stroke-width="1.6" stroke-opacity="0.15" stroke-linecap="round"/><line x1="838.7" y1="497.4" x2="951.5" y2="461.3" stroke="#ffffff" stroke-width="1.3" stroke-opacity="0.23" stroke-linecap="round"/><line x1="826.8" y1="505.3" x2="968.7" y2="466.2" stroke="#ffffff" stroke-width="2.2" stroke-opacity="0.31" stroke-linecap="round"/><line x1="704.7" y1="433.8" x2="659.1" y2="297.9" stroke="#ffffff" stroke-width="2.2" stroke-opacity="0.11" stroke-linecap="round"/><line x1="895.5" y1="533.2" x2="999.5" y2="535.3" stroke="#ffffff" stroke-width="1.7" stroke-opacity="0.13" stroke-linecap="round"/><line x1="666.4" y1="624.9" x2="582.4" y2="737.6" stroke="#ffffff" stroke-width="1.0" stroke-opacity="0.28" stroke-linecap="round"/><line x1="785.7" y1="460.1" x2="871.2" y2="337.2" stroke="#ffffff" stroke-width="2.7" stroke-opacity="0.32" stroke-linecap="round"/><line x1="703.1" y1="649.5" x2="679.0" y2="734.2" stroke="#ffffff" stroke-width="3.4" stroke-opacity="0.24" stroke-linecap="round"/><line x1="642.8" y1="631.6" x2="589.6" y2="689.0" stroke="#ffffff" stroke-width="1.1" stroke-opacity="0.12" stroke-linecap="round"/><line x1="798.6" y1="435.8" x2="880.9" y2="310.0" stroke="#ffffff" stroke-width="1.6" stroke-opacity="0.16" stroke-linecap="round"/><line x1="633.1" y1="523.5" x2="538.5" y2="517.7" stroke="#ffffff" stroke-width="3.3" stroke-opacity="0.31" stroke-linecap="round"/><line x1="806.7" y1="377.2" x2="867.3" y2="244.3" stroke="#ffffff" stroke-width="3.3" stroke-opacity="0.23" stroke-linecap="round"/><line x1="722.0" y1="460.3" x2="695.8" y2="338.4" stroke="#ffffff" stroke-width="2.1" stroke-opacity="0.28" stroke-linecap="round"/><line x1="662.2" y1="443.8" x2="627.8" y2="404.2" stroke="#ffffff" stroke-width="3.2" stroke-opacity="0.13" stroke-linecap="round"/><line x1="607.1" y1="550.6" x2="522.7" y2="564.1" stroke="#ffffff" stroke-width="2.8" stroke-opacity="0.33" stroke-linecap="round"/><line x1="725.0" y1="698.9" x2="719.5" y2="776.3" stroke="#ffffff" stroke-width="2.3" stroke-opacity="0.19" stroke-linecap="round"/><line x1="786.2" y1="607.4" x2="823.4" y2="666.0" stroke="#ffffff" stroke-width="3.2" stroke-opacity="0.22" stroke-linecap="round"/><line x1="780.6" y1="736.1" x2="801.6" y2="835.0" stroke="#ffffff" stroke-width="2.1" stroke-opacity="0.13" stroke-linecap="round"/><line x1="767.6" y1="602.7" x2="799.8" y2="679.3" stroke="#ffffff" stroke-width="1.2" stroke-opacity="0.16" stroke-linecap="round"/><line x1="727.9" y1="685.1" x2="719.7" y2="825.7" stroke="#ffffff" stroke-width="2.8" stroke-opacity="0.20" stroke-linecap="round"/><line x1="596.1" y1="606.2" x2="514.5" y2="650.3" stroke="#ffffff" stroke-width="1.8" stroke-opacity="0.11" stroke-linecap="round"/><line x1="695.0" y1="746.5" x2="683.8" y2="804.2" stroke="#ffffff" stroke-width="2.2" stroke-opacity="0.25" stroke-linecap="round"/><line x1="807.9" y1="455.6" x2="861.6" y2="399.3" stroke="#ffffff" stroke-width="1.6" stroke-opacity="0.20" stroke-linecap="round"/><line x1="509.1" y1="602.6" x2="411.8" y2="633.6" stroke="#ffffff" stroke-width="3.1" stroke-opacity="0.11" stroke-linecap="round"/><line x1="930.7" y1="565.8" x2="1074.9" y2="592.5" stroke="#ffffff" stroke-width="2.1" stroke-opacity="0.24" stroke-linecap="round"/><line x1="877.5" y1="530.1" x2="1038.7" y2="530.3" stroke="#ffffff" stroke-width="3.0" stroke-opacity="0.31" stroke-linecap="round"/><line x1="850.0" y1="512.1" x2="912.1" y2="502.2" stroke="#ffffff" stroke-width="1.4" stroke-opacity="0.23" stroke-linecap="round"/><line x1="637.9" y1="333.8" x2="594.2" y2="247.4" stroke="#ffffff" stroke-width="2.6" stroke-opacity="0.28" stroke-linecap="round"/><line x1="573.8" y1="570.4" x2="521.0" y2="583.4" stroke="#ffffff" stroke-width="2.9" stroke-opacity="0.16" stroke-linecap="round"/><line x1="900.1" y1="449.2" x2="975.9" y2="411.7" stroke="#ffffff" stroke-width="1.3" stroke-opacity="0.16" stroke-linecap="round"/><line x1="608.7" y1="396.9" x2="567.2" y2="353.8" stroke="#ffffff" stroke-width="1.2" stroke-opacity="0.23" stroke-linecap="round"/><line x1="615.7" y1="467.4" x2="549.0" y2="433.0" stroke="#ffffff" stroke-width="2.4" stroke-opacity="0.10" stroke-linecap="round"/><line x1="688.4" y1="660.5" x2="635.8" y2="801.3" stroke="#ffffff" stroke-width="2.5" stroke-opacity="0.31" stroke-linecap="round"/><line x1="626.1" y1="545.6" x2="547.4" y2="556.7" stroke="#ffffff" stroke-width="3.3" stroke-opacity="0.27" stroke-linecap="round"/><line x1="710.9" y1="592.2" x2="672.2" y2="684.7" stroke="#ffffff" stroke-width="2.6" stroke-opacity="0.20" stroke-linecap="round"/><line x1="728.3" y1="700.9" x2="721.3" y2="840.2" stroke="#ffffff" stroke-width="1.5" stroke-opacity="0.11" stroke-linecap="round"/><line x1="660.4" y1="641.6" x2="591.1" y2="742.6" stroke="#ffffff" stroke-width="1.5" stroke-opacity="0.29" stroke-linecap="round"/><line x1="726.0" y1="385.5" x2="720.9" y2="318.5" stroke="#ffffff" stroke-width="3.3" stroke-opacity="0.17" stroke-linecap="round"/><line x1="784.5" y1="439.2" x2="817.1" y2="376.8" stroke="#ffffff" stroke-width="2.8" stroke-opacity="0.17" stroke-linecap="round"/><line x1="889.0" y1="487.4" x2="958.2" y2="468.0" stroke="#ffffff" stroke-width="1.5" stroke-opacity="0.20" stroke-linecap="round"/><line x1="614.8" y1="343.3" x2="580.5" y2="290.9" stroke="#ffffff" stroke-width="1.9" stroke-opacity="0.15" stroke-linecap="round"/><line x1="831.3" y1="516.1" x2="886.8" y2="507.9" stroke="#ffffff" stroke-width="1.1" stroke-opacity="0.19" stroke-linecap="round"/><line x1="920.7" y1="406.9" x2="1013.8" y2="344.6" stroke="#ffffff" stroke-width="3.4" stroke-opacity="0.32" stroke-linecap="round"/><line x1="687.6" y1="611.8" x2="610.1" y2="740.1" stroke="#ffffff" stroke-width="2.8" stroke-opacity="0.11" stroke-linecap="round"/><line x1="666.2" y1="423.2" x2="617.7" y2="349.9" stroke="#ffffff" stroke-width="1.8" stroke-opacity="0.14" stroke-linecap="round"/><line x1="857.3" y1="532.0" x2="949.5" y2="533.5" stroke="#ffffff" stroke-width="3.3" stroke-opacity="0.13" stroke-linecap="round"/><line x1="841.6" y1="508.5" x2="932.1" y2="489.9" stroke="#ffffff" stroke-width="3.0" stroke-opacity="0.30" stroke-linecap="round"/><line x1="665.1" y1="559.2" x2="567.8" y2="598.8" stroke="#ffffff" stroke-width="1.9" stroke-opacity="0.32" stroke-linecap="round"/><line x1="784.5" y1="644.3" x2="839.7" y2="777.2" stroke="#ffffff" stroke-width="1.1" stroke-opacity="0.20" stroke-linecap="round"/><line x1="815.8" y1="356.7" x2="836.6" y2="311.0" stroke="#ffffff" stroke-width="1.1" stroke-opacity="0.12" stroke-linecap="round"/><line x1="838.9" y1="479.6" x2="961.3" y2="419.1" stroke="#ffffff" stroke-width="3.2" stroke-opacity="0.18" stroke-linecap="round"/><line x1="703.1" y1="746.0" x2="688.8" y2="837.5" stroke="#ffffff" stroke-width="1.6" stroke-opacity="0.27" stroke-linecap="round"/><line x1="688.5" y1="628.4" x2="668.0" y2="669.9" stroke="#ffffff" stroke-width="2.8" stroke-opacity="0.32" stroke-linecap="round"/><line x1="577.3" y1="369.0" x2="542.0" y2="333.5" stroke="#ffffff" stroke-width="1.6" stroke-opacity="0.21" stroke-linecap="round"/><line x1="969.8" y1="471.6" x2="1062.7" y2="448.4" stroke="#ffffff" stroke-width="1.6" stroke-opacity="0.20" stroke-linecap="round"/><line x1="500.1" y1="538.7" x2="428.2" y2="541.4" stroke="#ffffff" stroke-width="2.9" stroke-opacity="0.28" stroke-linecap="round"/><line x1="829.3" y1="361.1" x2="883.5" y2="261.9" stroke="#ffffff" stroke-width="1.8" stroke-opacity="0.18" stroke-linecap="round"/><line x1="600.7" y1="674.8" x2="562.3" y2="715.6" stroke="#ffffff" stroke-width="1.5" stroke-opacity="0.28" stroke-linecap="round"/><line x1="738.4" y1="603.5" x2="739.3" y2="652.1" stroke="#ffffff" stroke-width="2.3" stroke-opacity="0.18" stroke-linecap="round"/><line x1="964.3" y1="504.5" x2="1079.3" y2="491.6" stroke="#ffffff" stroke-width="1.6" stroke-opacity="0.12" stroke-linecap="round"/><line x1="868.3" y1="611.9" x2="979.4" y2="681.1" stroke="#ffffff" stroke-width="2.1" stroke-opacity="0.16" stroke-linecap="round"/><line x1="579.6" y1="611.6" x2="466.2" y2="670.4" stroke="#ffffff" stroke-width="2.8" stroke-opacity="0.30" stroke-linecap="round"/><line x1="690.0" y1="459.0" x2="612.7" y2="342.4" stroke="#ffffff" stroke-width="1.7" stroke-opacity="0.24" stroke-linecap="round"/><line x1="595.4" y1="660.7" x2="543.8" y2="708.4" stroke="#ffffff" stroke-width="1.6" stroke-opacity="0.16" stroke-linecap="round"/><line x1="867.8" y1="699.3" x2="933.9" y2="785.0" stroke="#ffffff" stroke-width="1.8" stroke-opacity="0.20" stroke-linecap="round"/><line x1="898.1" y1="523.1" x2="975.8" y2="519.8" stroke="#ffffff" stroke-width="2.9" stroke-opacity="0.26" stroke-linecap="round"/><line x1="825.3" y1="525.5" x2="932.1" y2="520.0" stroke="#ffffff" stroke-width="3.0" stroke-opacity="0.30" stroke-linecap="round"/><line x1="803.4" y1="494.4" x2="876.6" y2="455.1" stroke="#ffffff" stroke-width="1.3" stroke-opacity="0.15" stroke-linecap="round"/><line x1="909.5" y1="503.4" x2="1068.8" y2="478.8" stroke="#ffffff" stroke-width="1.9" stroke-opacity="0.31" stroke-linecap="round"/><line x1="626.1" y1="563.0" x2="490.1" y2="603.6" stroke="#ffffff" stroke-width="3.3" stroke-opacity="0.13" stroke-linecap="round"/><line x1="587.5" y1="437.2" x2="524.9" y2="398.3" stroke="#ffffff" stroke-width="1.9" stroke-opacity="0.13" stroke-linecap="round"/><line x1="770.0" y1="630.0" x2="804.8" y2="735.1" stroke="#ffffff" stroke-width="2.6" stroke-opacity="0.15" stroke-linecap="round"/><line x1="865.6" y1="538.3" x2="996.6" y2="546.7" stroke="#ffffff" stroke-width="1.4" stroke-opacity="0.17" stroke-linecap="round"/><line x1="798.5" y1="713.7" x2="831.9" y2="813.4" stroke="#ffffff" stroke-width="1.2" stroke-opacity="0.12" stroke-linecap="round"/><line x1="603.3" y1="623.0" x2="503.0" y2="692.7" stroke="#ffffff" stroke-width="1.2" stroke-opacity="0.14" stroke-linecap="round"/><line x1="688.6" y1="408.2" x2="660.4" y2="337.0" stroke="#ffffff" stroke-width="1.7" stroke-opacity="0.33" stroke-linecap="round"/><line x1="671.3" y1="673.0" x2="635.9" y2="750.3" stroke="#ffffff" stroke-width="2.0" stroke-opacity="0.31" stroke-linecap="round"/><line x1="872.5" y1="527.4" x2="946.1" y2="526.0" stroke="#ffffff" stroke-width="2.7" stroke-opacity="0.15" stroke-linecap="round"/><line x1="969.1" y1="537.7" x2="1069.9" y2="541.1" stroke="#ffffff" stroke-width="3.0" stroke-opacity="0.20" stroke-linecap="round"/><line x1="850.4" y1="437.6" x2="901.9" y2="395.6" stroke="#ffffff" stroke-width="1.0" stroke-opacity="0.23" stroke-linecap="round"/><line x1="588.7" y1="367.3" x2="550.3" y2="325.1" stroke="#ffffff" stroke-width="2.5" stroke-opacity="0.19" stroke-linecap="round"/><line x1="640.8" y1="527.6" x2="556.8" y2="525.5" stroke="#ffffff" stroke-width="2.3" stroke-opacity="0.32" stroke-linecap="round"/><line x1="859.7" y1="620.0" x2="973.4" y2="703.3" stroke="#ffffff" stroke-width="3.3" stroke-opacity="0.15" stroke-linecap="round"/><line x1="904.8" y1="684.2" x2="978.4" y2="751.8" stroke="#ffffff" stroke-width="2.2" stroke-opacity="0.11" stroke-linecap="round"/><line x1="862.0" y1="473.7" x2="1003.8" y2="409.9" stroke="#ffffff" stroke-width="2.5" stroke-opacity="0.30" stroke-linecap="round"/><line x1="850.0" y1="690.9" x2="890.9" y2="749.2" stroke="#ffffff" stroke-width="2.0" stroke-opacity="0.30" stroke-linecap="round"/><line x1="786.1" y1="448.6" x2="822.5" y2="388.3" stroke="#ffffff" stroke-width="2.0" stroke-opacity="0.22" stroke-linecap="round"/><line x1="668.4" y1="585.4" x2="609.2" y2="633.3" stroke="#ffffff" stroke-width="2.7" stroke-opacity="0.32" stroke-linecap="round"/><line x1="902.5" y1="569.4" x2="1038.8" y2="601.7" stroke="#ffffff" stroke-width="1.1" stroke-opacity="0.30" stroke-linecap="round"/><line x1="868.4" y1="637.9" x2="954.1" y2="708.3" stroke="#ffffff" stroke-width="2.5" stroke-opacity="0.17" stroke-linecap="round"/><line x1="583.7" y1="605.8" x2="495.1" y2="649.6" stroke="#ffffff" stroke-width="2.6" stroke-opacity="0.21" stroke-linecap="round"/><line x1="668.3" y1="555.2" x2="553.2" y2="597.5" stroke="#ffffff" stroke-width="2.2" stroke-opacity="0.16" stroke-linecap="round"/><line x1="754.9" y1="341.3" x2="763.8" y2="247.2" stroke="#ffffff" stroke-width="1.4" stroke-opacity="0.21" stroke-linecap="round"/><line x1="809.8" y1="582.2" x2="889.3" y2="639.2" stroke="#ffffff" stroke-width="1.2" stroke-opacity="0.21" stroke-linecap="round"/><line x1="659.8" y1="525.6" x2="533.7" y2="518.3" stroke="#ffffff" stroke-width="1.2" stroke-opacity="0.28" stroke-linecap="round"/><line x1="765.0" y1="386.3" x2="774.8" y2="336.2" stroke="#ffffff" stroke-width="2.2" stroke-opacity="0.19" stroke-linecap="round"/><line x1="827.0" y1="504.2" x2="972.7" y2="462.4" stroke="#ffffff" stroke-width="3.4" stroke-opacity="0.28" stroke-linecap="round"/><line x1="778.6" y1="443.4" x2="845.3" y2="304.8" stroke="#ffffff" stroke-width="2.2" stroke-opacity="0.33" stroke-linecap="round"/><line x1="823.2" y1="484.8" x2="948.1" y2="419.3" stroke="#ffffff" stroke-width="3.2" stroke-opacity="0.12" stroke-linecap="round"/><line x1="614.9" y1="679.5" x2="574.0" y2="729.5" stroke="#ffffff" stroke-width="3.2" stroke-opacity="0.17" stroke-linecap="round"/><line x1="775.4" y1="451.0" x2="819.6" y2="360.0" stroke="#ffffff" stroke-width="3.2" stroke-opacity="0.15" stroke-linecap="round"/><line x1="724.0" y1="674.5" x2="716.9" y2="753.7" stroke="#ffffff" stroke-width="1.1" stroke-opacity="0.14" stroke-linecap="round"/><line x1="863.3" y1="712.2" x2="919.6" y2="793.4" stroke="#ffffff" stroke-width="3.1" stroke-opacity="0.14" stroke-linecap="round"/><line x1="756.7" y1="450.3" x2="781.4" y2="350.4" stroke="#ffffff" stroke-width="2.5" stroke-opacity="0.19" stroke-linecap="round"/><line x1="855.6" y1="420.5" x2="939.1" y2="343.4" stroke="#ffffff" stroke-width="3.1" stroke-opacity="0.13" stroke-linecap="round"/><line x1="920.2" y1="522.7" x2="1017.4" y2="518.8" stroke="#ffffff" stroke-width="2.9" stroke-opacity="0.16" stroke-linecap="round"/><line x1="910.6" y1="520.7" x2="1003.7" y2="515.7" stroke="#ffffff" stroke-width="2.8" stroke-opacity="0.21" stroke-linecap="round"/><line x1="827.5" y1="694.4" x2="852.3" y2="739.4" stroke="#ffffff" stroke-width="3.0" stroke-opacity="0.16" stroke-linecap="round"/><line x1="578.6" y1="359.3" x2="515.8" y2="291.7" stroke="#ffffff" stroke-width="2.6" stroke-opacity="0.18" stroke-linecap="round"/><line x1="813.1" y1="530.8" x2="881.0" y2="531.5" stroke="#ffffff" stroke-width="2.5" stroke-opacity="0.20" stroke-linecap="round"/><line x1="506.5" y1="513.4" x2="440.9" y2="508.7" stroke="#ffffff" stroke-width="1.5" stroke-opacity="0.26" stroke-linecap="round"/><line x1="806.8" y1="538.9" x2="898.5" y2="550.5" stroke="#ffffff" stroke-width="1.3" stroke-opacity="0.19" stroke-linecap="round"/><line x1="765.2" y1="685.5" x2="784.6" y2="792.7" stroke="#ffffff" stroke-width="1.5" stroke-opacity="0.25" stroke-linecap="round"/><line x1="643.9" y1="543.3" x2="483.5" y2="566.3" stroke="#ffffff" stroke-width="1.6" stroke-opacity="0.14" stroke-linecap="round"/><line x1="889.4" y1="624.2" x2="1016.8" y2="703.0" stroke="#ffffff" stroke-width="2.9" stroke-opacity="0.20" stroke-linecap="round"/><line x1="730.6" y1="594.6" x2="719.2" y2="708.8" stroke="#ffffff" stroke-width="2.3" stroke-opacity="0.18" stroke-linecap="round"/><line x1="645.6" y1="423.1" x2="546.5" y2="307.2" stroke="#ffffff" stroke-width="2.8" stroke-opacity="0.16" stroke-linecap="round"/><line x1="801.0" y1="490.0" x2="894.5" y2="431.7" stroke="#ffffff" stroke-width="2.0" stroke-opacity="0.16" stroke-linecap="round"/><line x1="933.2" y1="597.8" x2="981.3" y2="614.5" stroke="#ffffff" stroke-width="2.3" stroke-opacity="0.33" stroke-linecap="round"/><line x1="803.3" y1="604.3" x2="880.4" y2="690.6" stroke="#ffffff" stroke-width="2.2" stroke-opacity="0.25" stroke-linecap="round"/><line x1="776.3" y1="445.9" x2="810.1" y2="373.6" stroke="#ffffff" stroke-width="1.7" stroke-opacity="0.11" stroke-linecap="round"/><line x1="899.0" y1="408.4" x2="1001.9" y2="331.1" stroke="#ffffff" stroke-width="1.0" stroke-opacity="0.30" stroke-linecap="round"/><line x1="732.4" y1="391.7" x2="728.1" y2="266.6" stroke="#ffffff" stroke-width="2.1" stroke-opacity="0.15" stroke-linecap="round"/><line x1="825.2" y1="591.8" x2="868.4" y2="622.0" stroke="#ffffff" stroke-width="1.8" stroke-opacity="0.28" stroke-linecap="round"/><line x1="661.9" y1="341.8" x2="620.4" y2="237.8" stroke="#ffffff" stroke-width="1.6" stroke-opacity="0.23" stroke-linecap="round"/><line x1="542.0" y1="604.6" x2="438.1" y2="644.3" stroke="#ffffff" stroke-width="1.6" stroke-opacity="0.25" stroke-linecap="round"/><line x1="843.5" y1="508.7" x2="995.3" y2="478.2" stroke="#ffffff" stroke-width="1.0" stroke-opacity="0.16" stroke-linecap="round"/><line x1="754.8" y1="712.8" x2="767.1" y2="839.3" stroke="#ffffff" stroke-width="2.8" stroke-opacity="0.18" stroke-linecap="round"/><line x1="831.2" y1="450.5" x2="888.7" y2="402.1" stroke="#ffffff" stroke-width="3.2" stroke-opacity="0.25" stroke-linecap="round"/><line x1="670.3" y1="370.1" x2="615.7" y2="239.3" stroke="#ffffff" stroke-width="2.1" stroke-opacity="0.30" stroke-linecap="round"/><line x1="664.5" y1="338.9" x2="631.4" y2="251.6" stroke="#ffffff" stroke-width="2.7" stroke-opacity="0.24" stroke-linecap="round"/><line x1="698.6" y1="621.0" x2="654.3" y2="725.9" stroke="#ffffff" stroke-width="1.2" stroke-opacity="0.32" stroke-linecap="round"/><line x1="783.0" y1="583.1" x2="821.6" y2="627.7" stroke="#ffffff" stroke-width="3.2" stroke-opacity="0.18" stroke-linecap="round"/><line x1="784.2" y1="582.6" x2="818.8" y2="621.1" stroke="#ffffff" stroke-width="2.7" stroke-opacity="0.25" stroke-linecap="round"/><line x1="670.8" y1="357.7" x2="651.9" y2="308.4" stroke="#ffffff" stroke-width="2.4" stroke-opacity="0.19" stroke-linecap="round"/><line x1="826.6" y1="351.6" x2="879.1" y2="247.1" stroke="#ffffff" stroke-width="1.2" stroke-opacity="0.31" stroke-linecap="round"/><line x1="943.1" y1="419.4" x2="997.1" y2="390.4" stroke="#ffffff" stroke-width="1.5" stroke-opacity="0.13" stroke-linecap="round"/><line x1="954.4" y1="573.0" x2="1074.0" y2="596.6" stroke="#ffffff" stroke-width="2.5" stroke-opacity="0.30" stroke-linecap="round"/><line x1="654.5" y1="449.4" x2="612.5" y2="408.4" stroke="#ffffff" stroke-width="1.2" stroke-opacity="0.28" stroke-linecap="round"/><line x1="772.6" y1="640.1" x2="800.7" y2="727.3" stroke="#ffffff" stroke-width="1.1" stroke-opacity="0.16" stroke-linecap="round"/><line x1="696.6" y1="705.2" x2="677.4" y2="788.2" stroke="#ffffff" stroke-width="1.8" stroke-opacity="0.33" stroke-linecap="round"/><line x1="513.8" y1="525.3" x2="392.1" y2="522.7" stroke="#ffffff" stroke-width="1.1" stroke-opacity="0.20" stroke-linecap="round"/><line x1="544.3" y1="603.2" x2="459.9" y2="635.2" stroke="#ffffff" stroke-width="2.7" stroke-opacity="0.23" stroke-linecap="round"/><line x1="784.0" y1="728.2" x2="796.6" y2="781.8" stroke="#ffffff" stroke-width="3.0" stroke-opacity="0.14" stroke-linecap="round"/><line x1="843.4" y1="530.8" x2="984.8" y2="531.8" stroke="#ffffff" stroke-width="3.3" stroke-opacity="0.10" stroke-linecap="round"/><line x1="578.8" y1="538.2" x2="433.4" y2="545.8" stroke="#ffffff" stroke-width="1.4" stroke-opacity="0.22" stroke-linecap="round"/><line x1="611.0" y1="692.0" x2="564.4" y2="751.9" stroke="#ffffff" stroke-width="3.3" stroke-opacity="0.17" stroke-linecap="round"/><line x1="780.1" y1="702.0" x2="804.2" y2="798.4" stroke="#ffffff" stroke-width="1.3" stroke-opacity="0.25" stroke-linecap="round"/><line x1="922.1" y1="622.8" x2="1038.4" y2="681.1" stroke="#ffffff" stroke-width="2.9" stroke-opacity="0.25" stroke-linecap="round"/><line x1="649.4" y1="630.8" x2="589.4" y2="699.9" stroke="#ffffff" stroke-width="3.1" stroke-opacity="0.12" stroke-linecap="round"/><line x1="794.0" y1="486.7" x2="851.1" y2="443.4" stroke="#ffffff" stroke-width="1.6" stroke-opacity="0.32" stroke-linecap="round"/><line x1="598.7" y1="529.1" x2="442.7" y2="528.0" stroke="#ffffff" stroke-width="1.6" stroke-opacity="0.21" stroke-linecap="round"/><line x1="535.2" y1="493.5" x2="398.8" y2="468.9" stroke="#ffffff" stroke-width="2.6" stroke-opacity="0.18" stroke-linecap="round"/><line x1="691.6" y1="608.1" x2="621.6" y2="728.7" stroke="#ffffff" stroke-width="2.6" stroke-opacity="0.28" stroke-linecap="round"/><line x1="809.1" y1="647.3" x2="878.3" y2="759.8" stroke="#ffffff" stroke-width="2.4" stroke-opacity="0.13" stroke-linecap="round"/><line x1="514.2" y1="578.8" x2="437.9" y2="595.5" stroke="#ffffff" stroke-width="1.5" stroke-opacity="0.17" stroke-linecap="round"/><line x1="672.7" y1="338.9" x2="652.8" y2="279.9" stroke="#ffffff" stroke-width="1.4" stroke-opacity="0.16" stroke-linecap="round"/><line x1="661.1" y1="660.8" x2="629.0" y2="716.1" stroke="#ffffff" stroke-width="1.8" stroke-opacity="0.15" stroke-linecap="round"/><line x1="935.7" y1="501.8" x2="997.2" y2="493.1" stroke="#ffffff" stroke-width="3.3" stroke-opacity="0.12" stroke-linecap="round"/><line x1="552.4" y1="677.9" x2="479.3" y2="736.5" stroke="#ffffff" stroke-width="2.8" stroke-opacity="0.20" stroke-linecap="round"/><line x1="798.3" y1="686.9" x2="819.1" y2="740.3" stroke="#ffffff" stroke-width="1.5" stroke-opacity="0.19" stroke-linecap="round"/><line x1="875.6" y1="557.0" x2="1017.3" y2="584.6" stroke="#ffffff" stroke-width="2.7" stroke-opacity="0.22" stroke-linecap="round"/><line x1="633.7" y1="428.0" x2="588.5" y2="383.4" stroke="#ffffff" stroke-width="2.4" stroke-opacity="0.20" stroke-linecap="round"/><line x1="723.7" y1="320.2" x2="717.9" y2="228.9" stroke="#ffffff" stroke-width="2.4" stroke-opacity="0.28" stroke-linecap="round"/><line x1="639.2" y1="577.6" x2="519.0" y2="636.0" stroke="#ffffff" stroke-width="3.1" stroke-opacity="0.29" stroke-linecap="round"/><line x1="668.1" y1="338.7" x2="630.6" y2="234.6" stroke="#ffffff" stroke-width="2.5" stroke-opacity="0.21" stroke-linecap="round"/><line x1="666.4" y1="682.0" x2="642.6" y2="733.3" stroke="#ffffff" stroke-width="2.0" stroke-opacity="0.29" stroke-linecap="round"/><line x1="694.9" y1="369.4" x2="676.6" y2="299.3" stroke="#ffffff" stroke-width="2.0" stroke-opacity="0.21" stroke-linecap="round"/><line x1="633.2" y1="440.6" x2="538.6" y2="359.0" stroke="#ffffff" stroke-width="3.2" stroke-opacity="0.14" stroke-linecap="round"/><line x1="618.4" y1="374.0" x2="563.8" y2="302.2" stroke="#ffffff" stroke-width="2.2" stroke-opacity="0.33" stroke-linecap="round"/><line x1="900.0" y1="565.9" x2="967.3" y2="580.7" stroke="#ffffff" stroke-width="2.9" stroke-opacity="0.33" stroke-linecap="round"/><line x1="649.4" y1="520.4" x2="531.4" y2="507.5" stroke="#ffffff" stroke-width="2.3" stroke-opacity="0.27" stroke-linecap="round"/><line x1="552.5" y1="517.3" x2="403.4" y2="507.0" stroke="#ffffff" stroke-width="2.3" stroke-opacity="0.20" stroke-linecap="round"/><line x1="839.1" y1="498.8" x2="964.2" y2="460.7" stroke="#ffffff" stroke-width="1.9" stroke-opacity="0.28" stroke-linecap="round"/><line x1="914.6" y1="684.7" x2="981.2" y2="742.7" stroke="#ffffff" stroke-width="1.1" stroke-opacity="0.17" stroke-linecap="round"/><line x1="678.5" y1="568.4" x2="597.5" y2="621.6" stroke="#ffffff" stroke-width="2.0" stroke-opacity="0.27" stroke-linecap="round"/><line x1="666.5" y1="614.9" x2="620.5" y2="670.3" stroke="#ffffff" stroke-width="2.8" stroke-opacity="0.33" stroke-linecap="round"/><line x1="629.2" y1="513.3" x2="485.1" y2="491.1" stroke="#ffffff" stroke-width="1.9" stroke-opacity="0.15" stroke-linecap="round"/><line x1="881.3" y1="667.1" x2="974.3" y2="755.4" stroke="#ffffff" stroke-width="2.5" stroke-opacity="0.21" stroke-linecap="round"/><line x1="634.6" y1="492.1" x2="481.4" y2="435.5" stroke="#ffffff" stroke-width="1.8" stroke-opacity="0.25" stroke-linecap="round"/><line x1="827.8" y1="352.7" x2="872.2" y2="265.9" stroke="#ffffff" stroke-width="1.7" stroke-opacity="0.23" stroke-linecap="round"/><line x1="892.5" y1="670.2" x2="957.8" y2="729.2" stroke="#ffffff" stroke-width="3.0" stroke-opacity="0.16" stroke-linecap="round"/><line x1="654.6" y1="603.1" x2="582.6" y2="667.0" stroke="#ffffff" stroke-width="1.4" stroke-opacity="0.10" stroke-linecap="round"/><line x1="715.7" y1="423.1" x2="701.7" y2="352.8" stroke="#ffffff" stroke-width="1.7" stroke-opacity="0.22" stroke-linecap="round"/><line x1="570.6" y1="602.2" x2="454.3" y2="652.7" stroke="#ffffff" stroke-width="1.9" stroke-opacity="0.32" stroke-linecap="round"/><line x1="786.0" y1="472.8" x2="877.1" y2="366.3" stroke="#ffffff" stroke-width="3.2" stroke-opacity="0.29" stroke-linecap="round"/><line x1="876.6" y1="682.6" x2="956.2" y2="769.7" stroke="#ffffff" stroke-width="1.0" stroke-opacity="0.10" stroke-linecap="round"/><line x1="916.5" y1="479.5" x2="992.9" y2="458.0" stroke="#ffffff" stroke-width="1.2" stroke-opacity="0.13" stroke-linecap="round"/><line x1="758.5" y1="717.8" x2="767.9" y2="799.7" stroke="#ffffff" stroke-width="1.4" stroke-opacity="0.32" stroke-linecap="round"/><line x1="762.9" y1="442.9" x2="803.6" y2="306.4" stroke="#ffffff" stroke-width="2.5" stroke-opacity="0.29" stroke-linecap="round"/><line x1="623.8" y1="348.9" x2="567.9" y2="259.4" stroke="#ffffff" stroke-width="3.0" stroke-opacity="0.15" stroke-linecap="round"/><line x1="678.8" y1="390.5" x2="629.9" y2="273.4" stroke="#ffffff" stroke-width="2.1" stroke-opacity="0.31" stroke-linecap="round"/><line x1="626.4" y1="494.1" x2="552.9" y2="470.3" stroke="#ffffff" stroke-width="1.3" stroke-opacity="0.22" stroke-linecap="round"/><line x1="880.8" y1="579.8" x2="943.6" y2="601.6" stroke="#ffffff" stroke-width="2.2" stroke-opacity="0.22" stroke-linecap="round"/><line x1="518.6" y1="480.1" x2="469.4" y2="468.9" stroke="#ffffff" stroke-width="3.0" stroke-opacity="0.21" stroke-linecap="round"/><line x1="561.7" y1="464.6" x2="422.4" y2="412.6" stroke="#ffffff" stroke-width="1.9" stroke-opacity="0.20" stroke-linecap="round"/></g>
</g>
</g>
<ellipse cx="740.6" cy="534.8" rx="385" ry="343.6" fill="none" stroke="#a7a9af" stroke-width="4.6" stroke-linecap="round" stroke-dasharray="1.6 16.0"/>
<ellipse cx="727.7" cy="232.7" rx="130.0" ry="124.4" fill="#fbfbfd" filter="url(#soft2)"/>
<ellipse cx="423.8" cy="528.0" rx="134.8" ry="128.2" fill="#fbfbfd" filter="url(#soft2)"/>
<ellipse cx="1065.7" cy="529.8" rx="137.8" ry="129.2" fill="#fbfbfd" filter="url(#soft2)"/>
<ellipse cx="736.9" cy="816.6" rx="135.2" ry="125.5" fill="#fbfbfd" filter="url(#soft2)"/>
<ellipse cx="736.8" cy="528.5" rx="114.4" ry="110.8" fill="#fbfbfd" filter="url(#soft2)"/>
<path d="M565.6 250.7 L562.8 252.1 L560.1 253.5 L557.3 254.9 L554.6 256.4 L551.9 257.8 L549.2 259.3 L546.5 260.8 L543.9 262.4 L541.2 263.9 L538.6 265.5 L536.0 267.1 L533.4 268.7 L530.8 270.3 L528.3 271.9 L525.7 273.6 L523.2 275.3 L520.7 277.0 L518.2 278.7 L515.8 280.5 L513.3 282.2 L510.9 284.0 L508.4 285.8 L506.0 287.6 L503.7 289.5 L501.3 291.3 L498.9 293.2 L496.6 295.1 L494.3 297.0 L492.0 299.0 L489.7 300.9 L487.4 302.9 L485.2 304.9 L483.0 306.9 L480.8 309.0 L478.6 311.0 L476.4 313.1 L474.2 315.2 L472.1 317.3 L470.0 319.5 L467.8 321.6 L465.8 323.8 L463.7 326.0 L461.6 328.2 L459.6 330.4 L457.6 332.7 L455.6 335.0 L453.6 337.3 L451.6 339.6 L449.6 341.9 L447.7 344.3 L445.8 346.6 L443.9 349.0 L442.0 351.4 L440.1 353.8 L438.3 356.3 L436.5 358.8 L434.7 361.2 L432.9 363.8 L431.1 366.3 L429.3 368.8 L427.6 371.4 L425.8 374.0 L424.1 376.6 L422.4 379.2 L430.0 384.0 L431.7 381.5 L433.3 378.9 L435.0 376.4 L436.7 373.9 L438.5 371.4 L440.2 369.0 L441.9 366.5 L443.7 364.1 L445.5 361.7 L447.3 359.3 L449.1 356.9 L451.0 354.6 L452.8 352.3 L454.7 349.9 L456.6 347.7 L458.5 345.4 L460.4 343.1 L462.3 340.9 L464.3 338.7 L466.3 336.5 L468.2 334.3 L470.2 332.1 L472.3 330.0 L474.3 327.9 L476.4 325.8 L478.4 323.7 L480.5 321.6 L482.6 319.6 L484.7 317.6 L486.9 315.6 L489.0 313.6 L491.2 311.6 L493.4 309.7 L495.6 307.7 L497.8 305.8 L500.1 303.9 L502.3 302.1 L504.6 300.2 L506.9 298.4 L509.2 296.6 L511.5 294.8 L513.9 293.0 L516.2 291.2 L518.6 289.5 L521.0 287.8 L523.4 286.1 L525.8 284.4 L528.2 282.7 L530.7 281.1 L533.2 279.5 L535.7 277.9 L538.2 276.3 L540.7 274.7 L543.3 273.2 L545.8 271.6 L548.4 270.1 L551.0 268.6 L553.6 267.2 L556.2 265.7 L558.9 264.3 L561.5 262.9 L564.2 261.5 L566.9 260.1 L569.6 258.7 Z" fill="#fbfbfd" stroke="#fbfbfd" stroke-width="5.0" stroke-linejoin="round"/><path d="M593.1 243.2 L546.2 247.6 L559.4 258.9 L561.9 276.6 Z" fill="#fbfbfd" stroke="#fbfbfd" stroke-width="5.0" stroke-linejoin="round"/><path d="M415.0 400.3 L418.7 362.3 L429.6 376.5 L450.6 381.7 Z" fill="#fbfbfd" stroke="#fbfbfd" stroke-width="5.0" stroke-linejoin="round"/><path d="M565.6 250.7 L562.8 252.1 L560.1 253.5 L557.3 254.9 L554.6 256.4 L551.9 257.8 L549.2 259.3 L546.5 260.8 L543.9 262.4 L541.2 263.9 L538.6 265.5 L536.0 267.1 L533.4 268.7 L530.8 270.3 L528.3 271.9 L525.7 273.6 L523.2 275.3 L520.7 277.0 L518.2 278.7 L515.8 280.5 L513.3 282.2 L510.9 284.0 L508.4 285.8 L506.0 287.6 L503.7 289.5 L501.3 291.3 L498.9 293.2 L496.6 295.1 L494.3 297.0 L492.0 299.0 L489.7 300.9 L487.4 302.9 L485.2 304.9 L483.0 306.9 L480.8 309.0 L478.6 311.0 L476.4 313.1 L474.2 315.2 L472.1 317.3 L470.0 319.5 L467.8 321.6 L465.8 323.8 L463.7 326.0 L461.6 328.2 L459.6 330.4 L457.6 332.7 L455.6 335.0 L453.6 337.3 L451.6 339.6 L449.6 341.9 L447.7 344.3 L445.8 346.6 L443.9 349.0 L442.0 351.4 L440.1 353.8 L438.3 356.3 L436.5 358.8 L434.7 361.2 L432.9 363.8 L431.1 366.3 L429.3 368.8 L427.6 371.4 L425.8 374.0 L424.1 376.6 L422.4 379.2 L430.0 384.0 L431.7 381.5 L433.3 378.9 L435.0 376.4 L436.7 373.9 L438.5 371.4 L440.2 369.0 L441.9 366.5 L443.7 364.1 L445.5 361.7 L447.3 359.3 L449.1 356.9 L451.0 354.6 L452.8 352.3 L454.7 349.9 L456.6 347.7 L458.5 345.4 L460.4 343.1 L462.3 340.9 L464.3 338.7 L466.3 336.5 L468.2 334.3 L470.2 332.1 L472.3 330.0 L474.3 327.9 L476.4 325.8 L478.4 323.7 L480.5 321.6 L482.6 319.6 L484.7 317.6 L486.9 315.6 L489.0 313.6 L491.2 311.6 L493.4 309.7 L495.6 307.7 L497.8 305.8 L500.1 303.9 L502.3 302.1 L504.6 300.2 L506.9 298.4 L509.2 296.6 L511.5 294.8 L513.9 293.0 L516.2 291.2 L518.6 289.5 L521.0 287.8 L523.4 286.1 L525.8 284.4 L528.2 282.7 L530.7 281.1 L533.2 279.5 L535.7 277.9 L538.2 276.3 L540.7 274.7 L543.3 273.2 L545.8 271.6 L548.4 270.1 L551.0 268.6 L553.6 267.2 L556.2 265.7 L558.9 264.3 L561.5 262.9 L564.2 261.5 L566.9 260.1 L569.6 258.7 Z" fill="#54328a" stroke="#54328a" stroke-width="2.2" stroke-linejoin="miter"/><path d="M593.1 243.2 L546.2 247.6 L559.4 258.9 L561.9 276.6 Z" fill="#54328a" stroke="#54328a" stroke-width="2.2" stroke-linejoin="miter"/><path d="M415.0 400.3 L418.7 362.3 L429.6 376.5 L450.6 381.7 Z" fill="#54328a" stroke="#54328a" stroke-width="2.2" stroke-linejoin="miter"/><path d="M565.6 250.7 L562.8 252.1 L560.1 253.5 L557.3 254.9 L554.6 256.4 L551.9 257.8 L549.2 259.3 L546.5 260.8 L543.9 262.4 L541.2 263.9 L538.6 265.5 L536.0 267.1 L533.4 268.7 L530.8 270.3 L528.3 271.9 L525.7 273.6 L523.2 275.3 L520.7 277.0 L518.2 278.7 L515.8 280.5 L513.3 282.2 L510.9 284.0 L508.4 285.8 L506.0 287.6 L503.7 289.5 L501.3 291.3 L498.9 293.2 L496.6 295.1 L494.3 297.0 L492.0 299.0 L489.7 300.9 L487.4 302.9 L485.2 304.9 L483.0 306.9 L480.8 309.0 L478.6 311.0 L476.4 313.1 L474.2 315.2 L472.1 317.3 L470.0 319.5 L467.8 321.6 L465.8 323.8 L463.7 326.0 L461.6 328.2 L459.6 330.4 L457.6 332.7 L455.6 335.0 L453.6 337.3 L451.6 339.6 L449.6 341.9 L447.7 344.3 L445.8 346.6 L443.9 349.0 L442.0 351.4 L440.1 353.8 L438.3 356.3 L436.5 358.8 L434.7 361.2 L432.9 363.8 L431.1 366.3 L429.3 368.8 L427.6 371.4 L425.8 374.0 L424.1 376.6 L422.4 379.2 L430.0 384.0 L431.7 381.5 L433.3 378.9 L435.0 376.4 L436.7 373.9 L438.5 371.4 L440.2 369.0 L441.9 366.5 L443.7 364.1 L445.5 361.7 L447.3 359.3 L449.1 356.9 L451.0 354.6 L452.8 352.3 L454.7 349.9 L456.6 347.7 L458.5 345.4 L460.4 343.1 L462.3 340.9 L464.3 338.7 L466.3 336.5 L468.2 334.3 L470.2 332.1 L472.3 330.0 L474.3 327.9 L476.4 325.8 L478.4 323.7 L480.5 321.6 L482.6 319.6 L484.7 317.6 L486.9 315.6 L489.0 313.6 L491.2 311.6 L493.4 309.7 L495.6 307.7 L497.8 305.8 L500.1 303.9 L502.3 302.1 L504.6 300.2 L506.9 298.4 L509.2 296.6 L511.5 294.8 L513.9 293.0 L516.2 291.2 L518.6 289.5 L521.0 287.8 L523.4 286.1 L525.8 284.4 L528.2 282.7 L530.7 281.1 L533.2 279.5 L535.7 277.9 L538.2 276.3 L540.7 274.7 L543.3 273.2 L545.8 271.6 L548.4 270.1 L551.0 268.6 L553.6 267.2 L556.2 265.7 L558.9 264.3 L561.5 262.9 L564.2 261.5 L566.9 260.1 L569.6 258.7 Z" fill="#7046a8"/><path d="M593.1 243.2 L546.2 247.6 L559.4 258.9 L561.9 276.6 Z" fill="#7046a8"/><path d="M415.0 400.3 L418.7 362.3 L429.6 376.5 L450.6 381.7 Z" fill="#7046a8"/><path d="M559.4 258.9 L556.7 260.3 L554.1 261.8 L551.4 263.2 L548.8 264.7 L546.1 266.2 L543.5 267.8 L540.9 269.3 L538.4 270.9 L535.8 272.5 L533.3 274.1 L530.7 275.7 L528.2 277.4 L525.7 279.0 L523.3 280.7 L520.8 282.4 L518.4 284.1 L515.9 285.9 L513.5 287.6 L511.1 289.4 L508.8 291.2 L506.4 293.0 L504.1 294.9 L501.8 296.7 L499.5 298.6 L497.2 300.5 L494.9 302.4 L492.7 304.3 L490.4 306.3 L488.2 308.3 L486.0 310.3 L483.8 312.3 L481.7 314.3 L479.5 316.4 L477.4 318.4 L475.3 320.5 L473.2 322.6 L471.1 324.8 L469.0 326.9 L467.0 329.1 L464.9 331.3 L462.9 333.5 L460.9 335.7 L458.9 337.9 L457.0 340.2 L455.0 342.5 L453.1 344.8 L451.2 347.1 L449.3 349.4 L447.4 351.8 L445.6 354.2 L443.7 356.6 L441.9 359.0 L440.1 361.4 L438.3 363.9 L436.5 366.4 L434.8 368.9 L433.0 371.4 L431.3 373.9 L429.6 376.5" fill="none" stroke="#9a6cd2" stroke-opacity="0.60" stroke-width="3.2" stroke-linecap="round"/>
<path d="M890.6 244.0 L893.6 245.4 L896.7 246.8 L899.7 248.2 L902.7 249.6 L905.7 251.1 L908.7 252.6 L911.7 254.1 L914.6 255.6 L917.6 257.2 L920.5 258.7 L923.4 260.3 L926.3 261.9 L929.1 263.6 L932.0 265.2 L934.8 266.9 L937.6 268.6 L940.4 270.3 L943.2 272.0 L946.0 273.8 L948.7 275.6 L951.4 277.4 L954.1 279.2 L956.8 281.1 L959.5 282.9 L962.2 284.8 L964.8 286.7 L967.4 288.7 L970.0 290.6 L972.6 292.6 L975.2 294.6 L977.7 296.6 L980.3 298.6 L982.8 300.7 L985.3 302.8 L987.8 304.9 L990.3 307.0 L992.7 309.1 L995.1 311.3 L997.6 313.5 L1000.0 315.7 L1002.3 317.9 L1004.7 320.2 L1007.1 322.4 L1009.4 324.7 L1011.7 327.1 L1014.0 329.4 L1016.3 331.7 L1018.5 334.1 L1020.8 336.5 L1023.0 338.9 L1025.2 341.4 L1027.4 343.9 L1029.6 346.3 L1031.7 348.8 L1033.9 351.4 L1036.0 353.9 L1038.1 356.5 L1040.2 359.1 L1042.2 361.7 L1044.3 364.3 L1046.3 367.0 L1048.3 369.6 L1050.3 372.3 L1052.3 375.1 L1054.3 377.8 L1044.4 384.9 L1042.4 382.2 L1040.5 379.6 L1038.6 376.9 L1036.6 374.4 L1034.6 371.8 L1032.7 369.2 L1030.6 366.7 L1028.6 364.2 L1026.6 361.7 L1024.5 359.2 L1022.4 356.8 L1020.4 354.3 L1018.2 351.9 L1016.1 349.5 L1014.0 347.2 L1011.8 344.8 L1009.7 342.5 L1007.5 340.2 L1005.3 337.9 L1003.0 335.6 L1000.8 333.4 L998.5 331.2 L996.3 329.0 L994.0 326.8 L991.7 324.6 L989.3 322.5 L987.0 320.4 L984.6 318.3 L982.3 316.2 L979.9 314.2 L977.5 312.1 L975.0 310.1 L972.6 308.1 L970.1 306.1 L967.7 304.2 L965.2 302.2 L962.7 300.3 L960.2 298.4 L957.6 296.6 L955.1 294.7 L952.5 292.9 L949.9 291.1 L947.3 289.3 L944.7 287.5 L942.0 285.8 L939.4 284.1 L936.7 282.4 L934.0 280.7 L931.3 279.0 L928.6 277.4 L925.8 275.7 L923.1 274.1 L920.3 272.5 L917.5 271.0 L914.7 269.4 L911.8 267.9 L909.0 266.4 L906.1 264.9 L903.3 263.5 L900.4 262.0 L897.5 260.6 L894.5 259.2 L891.6 257.9 L888.6 256.5 L885.6 255.2 Z" fill="#fbfbfd" stroke="#fbfbfd" stroke-width="5.0" stroke-linejoin="round"/><path d="M863.3 239.5 L910.6 243.2 L897.1 253.7 L894.0 272.3 Z" fill="#fbfbfd" stroke="#fbfbfd" stroke-width="5.0" stroke-linejoin="round"/><path d="M1062.4 400.8 L1059.0 361.9 L1045.4 376.0 L1024.2 381.7 Z" fill="#fbfbfd" stroke="#fbfbfd" stroke-width="5.0" stroke-linejoin="round"/><path d="M890.6 244.0 L893.6 245.4 L896.7 246.8 L899.7 248.2 L902.7 249.6 L905.7 251.1 L908.7 252.6 L911.7 254.1 L914.6 255.6 L917.6 257.2 L920.5 258.7 L923.4 260.3 L926.3 261.9 L929.1 263.6 L932.0 265.2 L934.8 266.9 L937.6 268.6 L940.4 270.3 L943.2 272.0 L946.0 273.8 L948.7 275.6 L951.4 277.4 L954.1 279.2 L956.8 281.1 L959.5 282.9 L962.2 284.8 L964.8 286.7 L967.4 288.7 L970.0 290.6 L972.6 292.6 L975.2 294.6 L977.7 296.6 L980.3 298.6 L982.8 300.7 L985.3 302.8 L987.8 304.9 L990.3 307.0 L992.7 309.1 L995.1 311.3 L997.6 313.5 L1000.0 315.7 L1002.3 317.9 L1004.7 320.2 L1007.1 322.4 L1009.4 324.7 L1011.7 327.1 L1014.0 329.4 L1016.3 331.7 L1018.5 334.1 L1020.8 336.5 L1023.0 338.9 L1025.2 341.4 L1027.4 343.9 L1029.6 346.3 L1031.7 348.8 L1033.9 351.4 L1036.0 353.9 L1038.1 356.5 L1040.2 359.1 L1042.2 361.7 L1044.3 364.3 L1046.3 367.0 L1048.3 369.6 L1050.3 372.3 L1052.3 375.1 L1054.3 377.8 L1044.4 384.9 L1042.4 382.2 L1040.5 379.6 L1038.6 376.9 L1036.6 374.4 L1034.6 371.8 L1032.7 369.2 L1030.6 366.7 L1028.6 364.2 L1026.6 361.7 L1024.5 359.2 L1022.4 356.8 L1020.4 354.3 L1018.2 351.9 L1016.1 349.5 L1014.0 347.2 L1011.8 344.8 L1009.7 342.5 L1007.5 340.2 L1005.3 337.9 L1003.0 335.6 L1000.8 333.4 L998.5 331.2 L996.3 329.0 L994.0 326.8 L991.7 324.6 L989.3 322.5 L987.0 320.4 L984.6 318.3 L982.3 316.2 L979.9 314.2 L977.5 312.1 L975.0 310.1 L972.6 308.1 L970.1 306.1 L967.7 304.2 L965.2 302.2 L962.7 300.3 L960.2 298.4 L957.6 296.6 L955.1 294.7 L952.5 292.9 L949.9 291.1 L947.3 289.3 L944.7 287.5 L942.0 285.8 L939.4 284.1 L936.7 282.4 L934.0 280.7 L931.3 279.0 L928.6 277.4 L925.8 275.7 L923.1 274.1 L920.3 272.5 L917.5 271.0 L914.7 269.4 L911.8 267.9 L909.0 266.4 L906.1 264.9 L903.3 263.5 L900.4 262.0 L897.5 260.6 L894.5 259.2 L891.6 257.9 L888.6 256.5 L885.6 255.2 Z" fill="#e08a0a" stroke="#e08a0a" stroke-width="2.2" stroke-linejoin="miter"/><path d="M863.3 239.5 L910.6 243.2 L897.1 253.7 L894.0 272.3 Z" fill="#e08a0a" stroke="#e08a0a" stroke-width="2.2" stroke-linejoin="miter"/><path d="M1062.4 400.8 L1059.0 361.9 L1045.4 376.0 L1024.2 381.7 Z" fill="#e08a0a" stroke="#e08a0a" stroke-width="2.2" stroke-linejoin="miter"/><path d="M890.6 244.0 L893.6 245.4 L896.7 246.8 L899.7 248.2 L902.7 249.6 L905.7 251.1 L908.7 252.6 L911.7 254.1 L914.6 255.6 L917.6 257.2 L920.5 258.7 L923.4 260.3 L926.3 261.9 L929.1 263.6 L932.0 265.2 L934.8 266.9 L937.6 268.6 L940.4 270.3 L943.2 272.0 L946.0 273.8 L948.7 275.6 L951.4 277.4 L954.1 279.2 L956.8 281.1 L959.5 282.9 L962.2 284.8 L964.8 286.7 L967.4 288.7 L970.0 290.6 L972.6 292.6 L975.2 294.6 L977.7 296.6 L980.3 298.6 L982.8 300.7 L985.3 302.8 L987.8 304.9 L990.3 307.0 L992.7 309.1 L995.1 311.3 L997.6 313.5 L1000.0 315.7 L1002.3 317.9 L1004.7 320.2 L1007.1 322.4 L1009.4 324.7 L1011.7 327.1 L1014.0 329.4 L1016.3 331.7 L1018.5 334.1 L1020.8 336.5 L1023.0 338.9 L1025.2 341.4 L1027.4 343.9 L1029.6 346.3 L1031.7 348.8 L1033.9 351.4 L1036.0 353.9 L1038.1 356.5 L1040.2 359.1 L1042.2 361.7 L1044.3 364.3 L1046.3 367.0 L1048.3 369.6 L1050.3 372.3 L1052.3 375.1 L1054.3 377.8 L1044.4 384.9 L1042.4 382.2 L1040.5 379.6 L1038.6 376.9 L1036.6 374.4 L1034.6 371.8 L1032.7 369.2 L1030.6 366.7 L1028.6 364.2 L1026.6 361.7 L1024.5 359.2 L1022.4 356.8 L1020.4 354.3 L1018.2 351.9 L1016.1 349.5 L1014.0 347.2 L1011.8 344.8 L1009.7 342.5 L1007.5 340.2 L1005.3 337.9 L1003.0 335.6 L1000.8 333.4 L998.5 331.2 L996.3 329.0 L994.0 326.8 L991.7 324.6 L989.3 322.5 L987.0 320.4 L984.6 318.3 L982.3 316.2 L979.9 314.2 L977.5 312.1 L975.0 310.1 L972.6 308.1 L970.1 306.1 L967.7 304.2 L965.2 302.2 L962.7 300.3 L960.2 298.4 L957.6 296.6 L955.1 294.7 L952.5 292.9 L949.9 291.1 L947.3 289.3 L944.7 287.5 L942.0 285.8 L939.4 284.1 L936.7 282.4 L934.0 280.7 L931.3 279.0 L928.6 277.4 L925.8 275.7 L923.1 274.1 L920.3 272.5 L917.5 271.0 L914.7 269.4 L911.8 267.9 L909.0 266.4 L906.1 264.9 L903.3 263.5 L900.4 262.0 L897.5 260.6 L894.5 259.2 L891.6 257.9 L888.6 256.5 L885.6 255.2 Z" fill="url(#aOrange)"/><path d="M863.3 239.5 L910.6 243.2 L897.1 253.7 L894.0 272.3 Z" fill="url(#aOrange)"/><path d="M1062.4 400.8 L1059.0 361.9 L1045.4 376.0 L1024.2 381.7 Z" fill="url(#aOrange)"/><path d="M897.1 253.7 L900.1 255.1 L903.1 256.6 L906.0 258.0 L908.9 259.5 L911.8 261.0 L914.7 262.5 L917.6 264.1 L920.4 265.7 L923.3 267.2 L926.1 268.8 L928.9 270.5 L931.7 272.1 L934.5 273.8 L937.2 275.5 L939.9 277.2 L942.7 278.9 L945.4 280.7 L948.0 282.5 L950.7 284.3 L953.4 286.1 L956.0 287.9 L958.6 289.8 L961.2 291.6 L963.8 293.5 L966.4 295.5 L968.9 297.4 L971.4 299.4 L973.9 301.4 L976.4 303.4 L978.9 305.4 L981.4 307.4 L983.8 309.5 L986.3 311.6 L988.7 313.7 L991.1 315.8 L993.5 318.0 L995.8 320.2 L998.2 322.4 L1000.5 324.6 L1002.8 326.8 L1005.1 329.1 L1007.4 331.4 L1009.6 333.7 L1011.9 336.0 L1014.1 338.3 L1016.3 340.7 L1018.5 343.1 L1020.7 345.5 L1022.8 347.9 L1025.0 350.3 L1027.1 352.8 L1029.2 355.3 L1031.3 357.8 L1033.4 360.3 L1035.4 362.9 L1037.4 365.5 L1039.5 368.0 L1041.5 370.7 L1043.5 373.3 L1045.4 376.0" fill="none" stroke="#ffbe1c" stroke-opacity="0.40" stroke-width="4.5" stroke-linecap="round"/>
<path d="M430.5 682.1 L432.3 684.7 L434.0 687.2 L435.8 689.7 L437.6 692.2 L439.4 694.6 L441.2 697.1 L443.0 699.5 L444.9 701.9 L446.8 704.3 L448.6 706.7 L450.5 709.1 L452.5 711.4 L454.4 713.7 L456.3 716.0 L458.3 718.3 L460.3 720.6 L462.3 722.9 L464.3 725.1 L466.3 727.3 L468.3 729.6 L470.4 731.8 L472.4 733.9 L474.5 736.1 L476.6 738.2 L478.7 740.4 L480.9 742.5 L483.0 744.6 L485.2 746.6 L487.3 748.7 L489.5 750.7 L491.7 752.8 L493.9 754.8 L496.2 756.8 L498.4 758.7 L500.7 760.7 L503.0 762.6 L505.3 764.5 L507.6 766.4 L509.9 768.3 L512.2 770.2 L514.6 772.1 L517.0 773.9 L519.4 775.7 L521.8 777.5 L524.2 779.3 L526.6 781.1 L529.1 782.8 L531.5 784.6 L534.0 786.3 L536.5 788.0 L539.0 789.7 L541.5 791.3 L544.1 793.0 L546.6 794.6 L549.2 796.2 L551.8 797.8 L554.4 799.4 L557.0 801.0 L559.6 802.5 L562.2 804.0 L564.9 805.6 L567.6 807.1 L573.0 797.3 L570.4 795.8 L567.8 794.3 L565.2 792.8 L562.7 791.3 L560.1 789.8 L557.6 788.3 L555.1 786.7 L552.6 785.2 L550.1 783.6 L547.7 782.0 L545.2 780.3 L542.8 778.7 L540.3 777.1 L537.9 775.4 L535.5 773.7 L533.2 772.0 L530.8 770.3 L528.4 768.5 L526.1 766.8 L523.8 765.0 L521.5 763.2 L519.2 761.4 L516.9 759.6 L514.7 757.8 L512.4 755.9 L510.2 754.1 L508.0 752.2 L505.8 750.3 L503.6 748.4 L501.4 746.4 L499.3 744.5 L497.1 742.5 L495.0 740.5 L492.9 738.5 L490.8 736.5 L488.7 734.5 L486.6 732.4 L484.6 730.4 L482.5 728.3 L480.5 726.2 L478.5 724.1 L476.5 721.9 L474.5 719.8 L472.6 717.6 L470.6 715.4 L468.7 713.2 L466.8 711.0 L464.9 708.8 L463.0 706.6 L461.1 704.3 L459.2 702.0 L457.4 699.7 L455.6 697.4 L453.8 695.1 L452.0 692.7 L450.2 690.4 L448.4 688.0 L446.6 685.6 L444.9 683.2 L443.2 680.7 L441.5 678.3 L439.8 675.8 Z" fill="#fbfbfd" stroke="#fbfbfd" stroke-width="5.0" stroke-linejoin="round"/><path d="M421.9 658.4 L425.0 698.8 L440.3 686.4 L462.1 683.0 Z" fill="#fbfbfd" stroke="#fbfbfd" stroke-width="5.0" stroke-linejoin="round"/><path d="M597.5 816.0 L549.3 808.2 L562.4 797.7 L566.6 777.1 Z" fill="#fbfbfd" stroke="#fbfbfd" stroke-width="5.0" stroke-linejoin="round"/><path d="M430.5 682.1 L432.3 684.7 L434.0 687.2 L435.8 689.7 L437.6 692.2 L439.4 694.6 L441.2 697.1 L443.0 699.5 L444.9 701.9 L446.8 704.3 L448.6 706.7 L450.5 709.1 L452.5 711.4 L454.4 713.7 L456.3 716.0 L458.3 718.3 L460.3 720.6 L462.3 722.9 L464.3 725.1 L466.3 727.3 L468.3 729.6 L470.4 731.8 L472.4 733.9 L474.5 736.1 L476.6 738.2 L478.7 740.4 L480.9 742.5 L483.0 744.6 L485.2 746.6 L487.3 748.7 L489.5 750.7 L491.7 752.8 L493.9 754.8 L496.2 756.8 L498.4 758.7 L500.7 760.7 L503.0 762.6 L505.3 764.5 L507.6 766.4 L509.9 768.3 L512.2 770.2 L514.6 772.1 L517.0 773.9 L519.4 775.7 L521.8 777.5 L524.2 779.3 L526.6 781.1 L529.1 782.8 L531.5 784.6 L534.0 786.3 L536.5 788.0 L539.0 789.7 L541.5 791.3 L544.1 793.0 L546.6 794.6 L549.2 796.2 L551.8 797.8 L554.4 799.4 L557.0 801.0 L559.6 802.5 L562.2 804.0 L564.9 805.6 L567.6 807.1 L573.0 797.3 L570.4 795.8 L567.8 794.3 L565.2 792.8 L562.7 791.3 L560.1 789.8 L557.6 788.3 L555.1 786.7 L552.6 785.2 L550.1 783.6 L547.7 782.0 L545.2 780.3 L542.8 778.7 L540.3 777.1 L537.9 775.4 L535.5 773.7 L533.2 772.0 L530.8 770.3 L528.4 768.5 L526.1 766.8 L523.8 765.0 L521.5 763.2 L519.2 761.4 L516.9 759.6 L514.7 757.8 L512.4 755.9 L510.2 754.1 L508.0 752.2 L505.8 750.3 L503.6 748.4 L501.4 746.4 L499.3 744.5 L497.1 742.5 L495.0 740.5 L492.9 738.5 L490.8 736.5 L488.7 734.5 L486.6 732.4 L484.6 730.4 L482.5 728.3 L480.5 726.2 L478.5 724.1 L476.5 721.9 L474.5 719.8 L472.6 717.6 L470.6 715.4 L468.7 713.2 L466.8 711.0 L464.9 708.8 L463.0 706.6 L461.1 704.3 L459.2 702.0 L457.4 699.7 L455.6 697.4 L453.8 695.1 L452.0 692.7 L450.2 690.4 L448.4 688.0 L446.6 685.6 L444.9 683.2 L443.2 680.7 L441.5 678.3 L439.8 675.8 Z" fill="#b53c16" stroke="#b53c16" stroke-width="2.2" stroke-linejoin="miter"/><path d="M421.9 658.4 L425.0 698.8 L440.3 686.4 L462.1 683.0 Z" fill="#b53c16" stroke="#b53c16" stroke-width="2.2" stroke-linejoin="miter"/><path d="M597.5 816.0 L549.3 808.2 L562.4 797.7 L566.6 777.1 Z" fill="#b53c16" stroke="#b53c16" stroke-width="2.2" stroke-linejoin="miter"/><path d="M430.5 682.1 L432.3 684.7 L434.0 687.2 L435.8 689.7 L437.6 692.2 L439.4 694.6 L441.2 697.1 L443.0 699.5 L444.9 701.9 L446.8 704.3 L448.6 706.7 L450.5 709.1 L452.5 711.4 L454.4 713.7 L456.3 716.0 L458.3 718.3 L460.3 720.6 L462.3 722.9 L464.3 725.1 L466.3 727.3 L468.3 729.6 L470.4 731.8 L472.4 733.9 L474.5 736.1 L476.6 738.2 L478.7 740.4 L480.9 742.5 L483.0 744.6 L485.2 746.6 L487.3 748.7 L489.5 750.7 L491.7 752.8 L493.9 754.8 L496.2 756.8 L498.4 758.7 L500.7 760.7 L503.0 762.6 L505.3 764.5 L507.6 766.4 L509.9 768.3 L512.2 770.2 L514.6 772.1 L517.0 773.9 L519.4 775.7 L521.8 777.5 L524.2 779.3 L526.6 781.1 L529.1 782.8 L531.5 784.6 L534.0 786.3 L536.5 788.0 L539.0 789.7 L541.5 791.3 L544.1 793.0 L546.6 794.6 L549.2 796.2 L551.8 797.8 L554.4 799.4 L557.0 801.0 L559.6 802.5 L562.2 804.0 L564.9 805.6 L567.6 807.1 L573.0 797.3 L570.4 795.8 L567.8 794.3 L565.2 792.8 L562.7 791.3 L560.1 789.8 L557.6 788.3 L555.1 786.7 L552.6 785.2 L550.1 783.6 L547.7 782.0 L545.2 780.3 L542.8 778.7 L540.3 777.1 L537.9 775.4 L535.5 773.7 L533.2 772.0 L530.8 770.3 L528.4 768.5 L526.1 766.8 L523.8 765.0 L521.5 763.2 L519.2 761.4 L516.9 759.6 L514.7 757.8 L512.4 755.9 L510.2 754.1 L508.0 752.2 L505.8 750.3 L503.6 748.4 L501.4 746.4 L499.3 744.5 L497.1 742.5 L495.0 740.5 L492.9 738.5 L490.8 736.5 L488.7 734.5 L486.6 732.4 L484.6 730.4 L482.5 728.3 L480.5 726.2 L478.5 724.1 L476.5 721.9 L474.5 719.8 L472.6 717.6 L470.6 715.4 L468.7 713.2 L466.8 711.0 L464.9 708.8 L463.0 706.6 L461.1 704.3 L459.2 702.0 L457.4 699.7 L455.6 697.4 L453.8 695.1 L452.0 692.7 L450.2 690.4 L448.4 688.0 L446.6 685.6 L444.9 683.2 L443.2 680.7 L441.5 678.3 L439.8 675.8 Z" fill="url(#aRed)"/><path d="M421.9 658.4 L425.0 698.8 L440.3 686.4 L462.1 683.0 Z" fill="url(#aRed)"/><path d="M597.5 816.0 L549.3 808.2 L562.4 797.7 L566.6 777.1 Z" fill="url(#aRed)"/><path d="M440.3 686.4 L442.1 688.9 L443.9 691.3 L445.7 693.7 L447.5 696.1 L449.3 698.5 L451.2 700.9 L453.0 703.2 L454.9 705.5 L456.8 707.8 L458.7 710.1 L460.6 712.4 L462.5 714.7 L464.5 716.9 L466.4 719.2 L468.4 721.4 L470.4 723.6 L472.4 725.8 L474.4 727.9 L476.5 730.1 L478.5 732.2 L480.6 734.3 L482.7 736.4 L484.8 738.5 L486.9 740.5 L489.0 742.6 L491.2 744.6 L493.3 746.6 L495.5 748.6 L497.7 750.6 L499.9 752.6 L502.1 754.5 L504.3 756.4 L506.6 758.3 L508.8 760.2 L511.1 762.1 L513.4 764.0 L515.7 765.8 L518.0 767.6 L520.4 769.5 L522.7 771.3 L525.1 773.0 L527.5 774.8 L529.9 776.5 L532.3 778.3 L534.7 780.0 L537.2 781.7 L539.6 783.3 L542.1 785.0 L544.6 786.6 L547.1 788.3 L549.6 789.9 L552.1 791.5 L554.7 793.1 L557.2 794.6 L559.8 796.2 L562.4 797.7" fill="none" stroke="#f7703a" stroke-opacity="0.45" stroke-width="4.2" stroke-linecap="round"/>
<path d="M1057.1 689.7 L1055.3 692.4 L1053.5 695.1 L1051.7 697.7 L1049.8 700.4 L1047.9 703.0 L1046.0 705.5 L1044.1 708.1 L1042.2 710.6 L1040.2 713.1 L1038.2 715.6 L1036.2 718.0 L1034.2 720.4 L1032.2 722.8 L1030.1 725.2 L1028.0 727.5 L1025.9 729.9 L1023.8 732.1 L1021.6 734.4 L1019.5 736.7 L1017.3 738.9 L1015.1 741.1 L1012.9 743.2 L1010.6 745.4 L1008.3 747.5 L1006.0 749.6 L1003.7 751.6 L1001.4 753.6 L999.0 755.7 L996.7 757.6 L994.3 759.6 L991.9 761.5 L989.4 763.4 L987.0 765.3 L984.5 767.2 L982.0 769.0 L979.5 770.8 L977.0 772.6 L974.4 774.3 L971.8 776.0 L969.2 777.7 L966.6 779.4 L964.0 781.1 L961.3 782.7 L958.6 784.3 L955.9 785.8 L953.2 787.4 L950.5 788.9 L947.7 790.4 L944.9 791.8 L942.1 793.3 L939.3 794.7 L936.5 796.1 L933.6 797.4 L930.7 798.8 L927.8 800.1 L924.9 801.4 L922.0 802.6 L919.0 803.9 L916.1 805.1 L913.1 806.2 L910.0 807.4 L905.6 795.6 L908.5 794.5 L911.4 793.4 L914.3 792.2 L917.1 791.0 L919.9 789.8 L922.7 788.6 L925.5 787.3 L928.3 786.0 L931.0 784.7 L933.7 783.4 L936.4 782.0 L939.1 780.7 L941.8 779.3 L944.4 777.8 L947.1 776.4 L949.7 774.9 L952.2 773.4 L954.8 771.9 L957.4 770.3 L959.9 768.8 L962.4 767.2 L964.9 765.5 L967.3 763.9 L969.8 762.2 L972.2 760.5 L974.6 758.8 L977.0 757.0 L979.4 755.3 L981.7 753.5 L984.0 751.6 L986.4 749.8 L988.6 747.9 L990.9 746.0 L993.2 744.1 L995.4 742.2 L997.6 740.2 L999.8 738.2 L1002.0 736.2 L1004.1 734.1 L1006.3 732.1 L1008.4 730.0 L1010.5 727.8 L1012.5 725.7 L1014.6 723.5 L1016.6 721.3 L1018.7 719.1 L1020.7 716.9 L1022.6 714.6 L1024.6 712.3 L1026.5 710.0 L1028.4 707.6 L1030.3 705.3 L1032.2 702.9 L1034.1 700.5 L1035.9 698.0 L1037.8 695.5 L1039.6 693.0 L1041.4 690.5 L1043.1 688.0 L1044.9 685.4 L1046.6 682.8 Z" fill="#fbfbfd" stroke="#fbfbfd" stroke-width="5.0" stroke-linejoin="round"/><path d="M1066.8 661.3 L1062.0 707.1 L1048.3 691.5 L1024.2 688.0 Z" fill="#fbfbfd" stroke="#fbfbfd" stroke-width="5.0" stroke-linejoin="round"/><path d="M877.1 811.4 L930.3 814.7 L913.7 799.2 L914.2 775.8 Z" fill="#fbfbfd" stroke="#fbfbfd" stroke-width="5.0" stroke-linejoin="round"/><path d="M1057.1 689.7 L1055.3 692.4 L1053.5 695.1 L1051.7 697.7 L1049.8 700.4 L1047.9 703.0 L1046.0 705.5 L1044.1 708.1 L1042.2 710.6 L1040.2 713.1 L1038.2 715.6 L1036.2 718.0 L1034.2 720.4 L1032.2 722.8 L1030.1 725.2 L1028.0 727.5 L1025.9 729.9 L1023.8 732.1 L1021.6 734.4 L1019.5 736.7 L1017.3 738.9 L1015.1 741.1 L1012.9 743.2 L1010.6 745.4 L1008.3 747.5 L1006.0 749.6 L1003.7 751.6 L1001.4 753.6 L999.0 755.7 L996.7 757.6 L994.3 759.6 L991.9 761.5 L989.4 763.4 L987.0 765.3 L984.5 767.2 L982.0 769.0 L979.5 770.8 L977.0 772.6 L974.4 774.3 L971.8 776.0 L969.2 777.7 L966.6 779.4 L964.0 781.1 L961.3 782.7 L958.6 784.3 L955.9 785.8 L953.2 787.4 L950.5 788.9 L947.7 790.4 L944.9 791.8 L942.1 793.3 L939.3 794.7 L936.5 796.1 L933.6 797.4 L930.7 798.8 L927.8 800.1 L924.9 801.4 L922.0 802.6 L919.0 803.9 L916.1 805.1 L913.1 806.2 L910.0 807.4 L905.6 795.6 L908.5 794.5 L911.4 793.4 L914.3 792.2 L917.1 791.0 L919.9 789.8 L922.7 788.6 L925.5 787.3 L928.3 786.0 L931.0 784.7 L933.7 783.4 L936.4 782.0 L939.1 780.7 L941.8 779.3 L944.4 777.8 L947.1 776.4 L949.7 774.9 L952.2 773.4 L954.8 771.9 L957.4 770.3 L959.9 768.8 L962.4 767.2 L964.9 765.5 L967.3 763.9 L969.8 762.2 L972.2 760.5 L974.6 758.8 L977.0 757.0 L979.4 755.3 L981.7 753.5 L984.0 751.6 L986.4 749.8 L988.6 747.9 L990.9 746.0 L993.2 744.1 L995.4 742.2 L997.6 740.2 L999.8 738.2 L1002.0 736.2 L1004.1 734.1 L1006.3 732.1 L1008.4 730.0 L1010.5 727.8 L1012.5 725.7 L1014.6 723.5 L1016.6 721.3 L1018.7 719.1 L1020.7 716.9 L1022.6 714.6 L1024.6 712.3 L1026.5 710.0 L1028.4 707.6 L1030.3 705.3 L1032.2 702.9 L1034.1 700.5 L1035.9 698.0 L1037.8 695.5 L1039.6 693.0 L1041.4 690.5 L1043.1 688.0 L1044.9 685.4 L1046.6 682.8 Z" fill="#c98a08" stroke="#c98a08" stroke-width="2.2" stroke-linejoin="miter"/><path d="M1066.8 661.3 L1062.0 707.1 L1048.3 691.5 L1024.2 688.0 Z" fill="#c98a08" stroke="#c98a08" stroke-width="2.2" stroke-linejoin="miter"/><path d="M877.1 811.4 L930.3 814.7 L913.7 799.2 L914.2 775.8 Z" fill="#c98a08" stroke="#c98a08" stroke-width="2.2" stroke-linejoin="miter"/><path d="M1057.1 689.7 L1055.3 692.4 L1053.5 695.1 L1051.7 697.7 L1049.8 700.4 L1047.9 703.0 L1046.0 705.5 L1044.1 708.1 L1042.2 710.6 L1040.2 713.1 L1038.2 715.6 L1036.2 718.0 L1034.2 720.4 L1032.2 722.8 L1030.1 725.2 L1028.0 727.5 L1025.9 729.9 L1023.8 732.1 L1021.6 734.4 L1019.5 736.7 L1017.3 738.9 L1015.1 741.1 L1012.9 743.2 L1010.6 745.4 L1008.3 747.5 L1006.0 749.6 L1003.7 751.6 L1001.4 753.6 L999.0 755.7 L996.7 757.6 L994.3 759.6 L991.9 761.5 L989.4 763.4 L987.0 765.3 L984.5 767.2 L982.0 769.0 L979.5 770.8 L977.0 772.6 L974.4 774.3 L971.8 776.0 L969.2 777.7 L966.6 779.4 L964.0 781.1 L961.3 782.7 L958.6 784.3 L955.9 785.8 L953.2 787.4 L950.5 788.9 L947.7 790.4 L944.9 791.8 L942.1 793.3 L939.3 794.7 L936.5 796.1 L933.6 797.4 L930.7 798.8 L927.8 800.1 L924.9 801.4 L922.0 802.6 L919.0 803.9 L916.1 805.1 L913.1 806.2 L910.0 807.4 L905.6 795.6 L908.5 794.5 L911.4 793.4 L914.3 792.2 L917.1 791.0 L919.9 789.8 L922.7 788.6 L925.5 787.3 L928.3 786.0 L931.0 784.7 L933.7 783.4 L936.4 782.0 L939.1 780.7 L941.8 779.3 L944.4 777.8 L947.1 776.4 L949.7 774.9 L952.2 773.4 L954.8 771.9 L957.4 770.3 L959.9 768.8 L962.4 767.2 L964.9 765.5 L967.3 763.9 L969.8 762.2 L972.2 760.5 L974.6 758.8 L977.0 757.0 L979.4 755.3 L981.7 753.5 L984.0 751.6 L986.4 749.8 L988.6 747.9 L990.9 746.0 L993.2 744.1 L995.4 742.2 L997.6 740.2 L999.8 738.2 L1002.0 736.2 L1004.1 734.1 L1006.3 732.1 L1008.4 730.0 L1010.5 727.8 L1012.5 725.7 L1014.6 723.5 L1016.6 721.3 L1018.7 719.1 L1020.7 716.9 L1022.6 714.6 L1024.6 712.3 L1026.5 710.0 L1028.4 707.6 L1030.3 705.3 L1032.2 702.9 L1034.1 700.5 L1035.9 698.0 L1037.8 695.5 L1039.6 693.0 L1041.4 690.5 L1043.1 688.0 L1044.9 685.4 L1046.6 682.8 Z" fill="#fbb10a"/><path d="M1066.8 661.3 L1062.0 707.1 L1048.3 691.5 L1024.2 688.0 Z" fill="#fbb10a"/><path d="M877.1 811.4 L930.3 814.7 L913.7 799.2 L914.2 775.8 Z" fill="#fbb10a"/><path d="M1048.3 691.5 L1046.5 694.1 L1044.7 696.7 L1042.8 699.3 L1041.0 701.8 L1039.1 704.3 L1037.2 706.7 L1035.3 709.2 L1033.3 711.6 L1031.4 714.0 L1029.4 716.4 L1027.4 718.7 L1025.4 721.0 L1023.3 723.3 L1021.3 725.6 L1019.2 727.8 L1017.1 730.1 L1015.0 732.2 L1012.8 734.4 L1010.7 736.6 L1008.5 738.7 L1006.3 740.8 L1004.1 742.8 L1001.8 744.9 L999.6 746.9 L997.3 748.9 L995.0 750.8 L992.7 752.8 L990.3 754.7 L988.0 756.6 L985.6 758.4 L983.2 760.3 L980.8 762.1 L978.3 763.9 L975.9 765.6 L973.4 767.4 L970.9 769.1 L968.3 770.8 L965.8 772.4 L963.2 774.1 L960.7 775.7 L958.1 777.3 L955.4 778.8 L952.8 780.4 L950.1 781.9 L947.5 783.4 L944.8 784.8 L942.0 786.3 L939.3 787.7 L936.5 789.0 L933.8 790.4 L930.9 791.7 L928.1 793.0 L925.3 794.3 L922.4 795.6 L919.5 796.8 L916.6 798.0 L913.7 799.2" fill="none" stroke="#ffd016" stroke-opacity="0.90" stroke-width="6.0" stroke-linecap="round"/>
<path d="M731.6 358.8 L755.7 391.0 L740.4 391.0 L740.4 419.6 L722.9 419.6 L722.9 391.0 L707.6 391.0 Z" fill="#fbfcfd" stroke="#fbfcfd" stroke-width="5" stroke-linejoin="round"/><path d="M731.6 358.8 L755.7 391.0 L740.4 391.0 L740.4 419.6 L722.9 419.6 L722.9 391.0 L707.6 391.0 Z" fill="#6d3d5c" stroke="#5c314d" stroke-width="0.8" stroke-linejoin="miter"/>
<path d="M558.7 525.4 L591.5 502.0 L591.5 516.7 L621.8 516.7 L621.8 534.0 L591.5 534.0 L591.5 548.8 Z" fill="#fbfcfd" stroke="#fbfcfd" stroke-width="5" stroke-linejoin="round"/><path d="M558.7 525.4 L591.5 502.0 L591.5 516.7 L621.8 516.7 L621.8 534.0 L591.5 534.0 L591.5 548.8 Z" fill="#6b419f" stroke="#593389" stroke-width="0.8" stroke-linejoin="miter"/>
<path d="M927.8 524.6 L892.5 501.9 L892.5 515.9 L853.0 515.9 L853.0 533.8 L892.5 533.8 L892.5 548.8 Z" fill="#fbfcfd" stroke="#fbfcfd" stroke-width="5" stroke-linejoin="round"/><path d="M927.8 524.6 L892.5 501.9 L892.5 515.9 L853.0 515.9 L853.0 533.8 L892.5 533.8 L892.5 548.8 Z" fill="#f89c10" stroke="#e38a08" stroke-width="0.8" stroke-linejoin="miter"/>
<path d="M735.3 692.6 L710.8 662.6 L726.2 662.6 L726.2 638.2 L744.8 638.2 L744.8 662.6 L759.4 662.6 Z" fill="#fbfcfd" stroke="#fbfcfd" stroke-width="5" stroke-linejoin="round"/><path d="M735.3 692.6 L710.8 662.6 L726.2 662.6 L726.2 638.2 L744.8 638.2 L744.8 662.6 L759.4 662.6 Z" fill="#3f9a30" stroke="#2f8226" stroke-width="0.8" stroke-linejoin="miter"/>
<ellipse cx="727.7" cy="232.7" rx="122.0" ry="116.4" fill="url(#dSoul)"/><ellipse cx="727.7" cy="232.7" rx="116.0" ry="110.4" fill="url(#rSoul)"/><ellipse cx="727.7" cy="232.7" rx="110.4" ry="104.8" fill="url(#gSoul)"/><path d="M651.2 167.6 A102.9 97.3 0 0 0 640.4 284.3" fill="none" stroke="#b594d4" stroke-opacity="0.55" stroke-width="3.2" stroke-linecap="round" stroke-dasharray="0.1 8.4"/><path d="M804.2 167.6 A102.9 97.3 0 0 1 815.0 284.3" fill="none" stroke="#b594d4" stroke-opacity="0.55" stroke-width="3.2" stroke-linecap="round" stroke-dasharray="0.1 8.4"/><line x1="633.5" y1="270.6" x2="821.2" y2="270.6" stroke="#b58ad6" stroke-width="1.5"/>
<ellipse cx="423.8" cy="528.0" rx="126.8" ry="120.2" fill="url(#dBody)"/><ellipse cx="423.8" cy="528.0" rx="120.8" ry="114.2" fill="url(#rBody)"/><ellipse cx="423.8" cy="528.0" rx="115.2" ry="108.6" fill="url(#gBody)"/><path d="M343.8 460.4 A107.7 101.1 0 0 0 332.5 581.6" fill="none" stroke="#e0655f" stroke-opacity="0.50" stroke-width="3.2" stroke-linecap="round" stroke-dasharray="0.1 8.4"/><path d="M503.8 460.4 A107.7 101.1 0 0 1 515.1 581.6" fill="none" stroke="#e0655f" stroke-opacity="0.50" stroke-width="3.2" stroke-linecap="round" stroke-dasharray="0.1 8.4"/><line x1="327.8" y1="566.3" x2="519.7" y2="566.3" stroke="#ec4a40" stroke-width="1.5"/>
<ellipse cx="1065.7" cy="529.8" rx="129.8" ry="121.2" fill="url(#dMind)"/><ellipse cx="1065.7" cy="529.8" rx="123.8" ry="115.2" fill="url(#rMind)"/><ellipse cx="1065.7" cy="529.8" rx="118.2" ry="109.6" fill="url(#gMind)"/><path d="M983.4 461.5 A110.7 102.1 0 0 0 971.8 583.9" fill="none" stroke="#ffb43a" stroke-opacity="0.55" stroke-width="3.2" stroke-linecap="round" stroke-dasharray="0.1 8.4"/><path d="M1148.0 461.5 A110.7 102.1 0 0 1 1159.6 583.9" fill="none" stroke="#ffb43a" stroke-opacity="0.55" stroke-width="3.2" stroke-linecap="round" stroke-dasharray="0.1 8.4"/><line x1="966.5" y1="566.3" x2="1164.6" y2="566.3" stroke="#ffd21e" stroke-width="1.5"/>
<ellipse cx="736.9" cy="816.6" rx="127.2" ry="117.5" fill="url(#dLogic)"/><ellipse cx="736.9" cy="816.6" rx="121.2" ry="111.5" fill="url(#rLogic)"/><ellipse cx="736.9" cy="816.6" rx="115.6" ry="105.9" fill="url(#gLogic)"/><path d="M656.6 750.8 A108.1 98.4 0 0 0 645.2 868.7" fill="none" stroke="#86d052" stroke-opacity="0.55" stroke-width="3.2" stroke-linecap="round" stroke-dasharray="0.1 8.4"/><path d="M817.2 750.8 A108.1 98.4 0 0 1 828.6 868.7" fill="none" stroke="#86d052" stroke-opacity="0.55" stroke-width="3.2" stroke-linecap="round" stroke-dasharray="0.1 8.4"/><line x1="638.6" y1="851.6" x2="835.1" y2="851.6" stroke="#9edc62" stroke-width="1.5"/>
<ellipse cx="736.8" cy="528.5" rx="108.4" ry="104.8" fill="url(#dLabs)"/><ellipse cx="736.8" cy="528.5" rx="102.6" ry="99.0" fill="url(#rLabs)"/><ellipse cx="736.8" cy="528.5" rx="97.2" ry="93.6" fill="url(#gLabs)"/><path d="M670.1 470.9 A89.7 86.1 0 0 0 660.7 574.1" fill="none" stroke="#74c4d6" stroke-opacity="0.50" stroke-width="3.2" stroke-linecap="round" stroke-dasharray="0.1 8.4"/><path d="M803.5 470.9 A89.7 86.1 0 0 1 812.9 574.1" fill="none" stroke="#74c4d6" stroke-opacity="0.50" stroke-width="3.2" stroke-linecap="round" stroke-dasharray="0.1 8.4"/><line x1="658.0" y1="567.7" x2="813.5" y2="567.7" stroke="#86d2e2" stroke-width="1.5"/>
<g filter="url(#ish)">
<path d="M741.5 158.5 a9.4 9.4 0 1 1 17.5 4.2 l-1.8 4.2 l2.2 4.6 c-2.5 3.2 -7 4.6 -11.4 4.2 Z" fill="#f0e252" stroke="#5a3f2a" stroke-opacity="0.55" stroke-width="0.8"/>
<g transform="translate(753.7 202.3) rotate(-58.3)">
<path fill-rule="evenodd" fill="#f3e75c" stroke="#5a3f2a" stroke-opacity="0.6" stroke-width="0.8" d="M12.3 -5.3 L25 -5.3 l1 -0.9 l10 0 l1.2 -1.1 l2.4 0 l1 1.1 l3.4 0 a8.3 8.3 0 1 1 0 11.2 l-4 0 l-1.2 1.3 l-2.6 0 l-1.2 -1.3 l-3.4 0 l-1.2 1.5 l-3 0 l-1.2 -1.5 L12.3 5.3 A13.4 13.4 0 1 1 12.3 -5.3 Z M-4.9 0 a4.9 4.9 0 1 0 9.8 0 a4.9 4.9 0 1 0 -9.8 0 Z"/>
</g>
<path d="M712 212.6 C700 203.5 676.7 191 676.7 171.5 C676.7 160 684 153.6 692.2 153.6 C700 153.6 706.8 156.4 711 161.6 C715 154 722 150.6 730 150.6 C738.4 150.6 743.6 159.6 743.6 171.5 C743.6 191 722.5 204 712 212.6 Z" fill="none" stroke="#4a2c58" stroke-opacity="0.7" stroke-width="10" stroke-linejoin="miter" stroke-miterlimit="6"/>
<path d="M712 212.6 C700 203.5 676.7 191 676.7 171.5 C676.7 160 684 153.6 692.2 153.6 C700 153.6 706.8 156.4 711 161.6 C715 154 722 150.6 730 150.6 C738.4 150.6 743.6 159.6 743.6 171.5 C743.6 191 722.5 204 712 212.6 Z" fill="none" stroke="url(#heartStroke)" stroke-width="8.4" stroke-linejoin="miter" stroke-miterlimit="6"/>
</g>
<g>
<path d="M726.6 480.5 L726.9 493 C726.9 497 716.2 506 716.2 515.5 C716.2 521.5 720 525.3 726 525.3 L745.4 525.3 C751.4 525.3 754.6 521.5 754.6 515.5 C754.6 506 745.8 497 745.8 493 L746.4 480.5" fill="none" stroke="#ffffff" stroke-width="3.7" stroke-linecap="round" stroke-linejoin="round"/>
<rect x="721.1" y="474.8" width="26.2" height="4.8" rx="2.2" fill="#ffffff"/>
<path d="M729.2 480.5 L741.4 480.5 L741.6 497 C743 502 751.6 510 751.6 516 C751.6 520 749.4 522.4 745.6 522.4 L725 522.4 C721.2 522.4 718.8 520.4 718.8 516.6 C718.8 514 720.6 511.6 723 511.8 C727 512.4 732 512.2 735.6 509.6 C734.8 505.2 732 502 728.6 500.8 L729.2 480.5 Z" fill="#ffffff"/>
<circle cx="726.9" cy="507.8" r="1.9" fill="#ffffff"/>
<circle cx="739.9" cy="453.3" r="5.1" fill="#ffffff"/>
<circle cx="730.4" cy="459.8" r="4.7" fill="#ffffff"/>
<circle cx="725.3" cy="469.7" r="3.7" fill="#ffffff"/>
<ellipse cx="735.3" cy="466.9" rx="3.2" ry="4.7" transform="rotate(32 735.3 466.9)" fill="#f2fbfd"/>
</g>
<g filter="url(#ish)">
<path d="M684.2 756.8 L666.6 765.9 L684.6 775.8" fill="none" stroke="#fbfbf2" stroke-width="6.2" stroke-linejoin="miter" stroke-miterlimit="3" stroke-linecap="butt"/>
<path d="M687.7 735 H707.2 V741.1 H696.9 V794.1 H707.2 V799.9 H687.7 Z" fill="#fbfbf2"/>
<circle cx="714.5" cy="758.9" r="6.6" fill="#fbfbf2"/>
<circle cx="713.3" cy="781.9" r="4.6" fill="#fbfbf2"/>
<path d="M721 734.1 H754 Q756.1 734.1 756.1 736.2 V797 Q756.1 799.1 754 799.1 H722 Q720 799.1 720 797 V776 C718 771.5 719.5 770 723.5 767.5 C727 764.5 726 758 725.5 754 C725 749.5 723 745 719.2 742.5 L719 736.2 Q719 734.1 721 734.1 Z" fill="#fbfbf2"/>
<path d="M749.6 740.6 C743 741 739 744.5 739.4 750 C739.8 757 741 761 743.6 764 C747.6 768 748.4 771.6 745 774.2 C741 777 734 776.6 731.6 780 C729.8 783 730 786.6 731.4 788.4" fill="none" stroke="#3f982c" stroke-width="4.2" stroke-linecap="round"/>
<circle cx="734.2" cy="788.4" r="3.4" fill="#3f982c"/>
<path d="M756.1 743.6 H788.3 V737.3 H795.9 V750.7 H788.3 V749.2 H756.1 Z" fill="#fbfbf2"/>
<path d="M810.20 776.98 L815.14 778.56 L813.02 787.05 L807.92 786.13 L804.16 791.21 L806.53 795.82 L799.03 800.32 L796.07 796.07 L789.82 797.00 L788.24 801.94 L779.75 799.82 L780.67 794.72 L775.59 790.96 L770.98 793.33 L766.48 785.83 L770.73 782.87 L769.80 776.62 L764.86 775.04 L766.98 766.55 L772.08 767.47 L775.84 762.39 L773.47 757.78 L780.97 753.28 L783.93 757.53 L790.18 756.60 L791.76 751.66 L800.25 753.78 L799.33 758.88 L804.41 762.64 L809.02 760.27 L813.52 767.77 L809.27 770.73 Z M778.70 776.80 a11.30 11.30 0 1 0 22.60 0 a11.30 11.30 0 1 0 -22.60 0 Z" fill="url(#gearLogic)" stroke="url(#gearLogic)" stroke-width="1.6" stroke-linejoin="round" fill-rule="evenodd"/>
</g>
<g filter="url(#ish)">
<line x1="1061.2" y1="424.4" x2="1061.2" y2="433.2" stroke="#fdd424" stroke-width="2.4" stroke-linecap="butt"/>
<line x1="1033.3" y1="428.8" x2="1044.1" y2="437.1" stroke="#fdd424" stroke-width="4.2" stroke-linecap="butt"/>
<line x1="1085.6" y1="429.3" x2="1079.2" y2="438.6" stroke="#fdd424" stroke-width="3.8" stroke-linecap="butt"/>
<line x1="1018.2" y1="448.8" x2="1029.9" y2="453.2" stroke="#fdd424" stroke-width="4.2" stroke-linecap="butt"/>
<line x1="1016.7" y1="472.7" x2="1030.4" y2="468.8" stroke="#fdd424" stroke-width="4.2" stroke-linecap="butt"/>
<line x1="1030.9" y1="492.8" x2="1037.2" y2="485.4" stroke="#fdd424" stroke-width="2.4" stroke-linecap="butt"/>
<path d="M1128.71 459.83 L1132.51 461.53 L1130.01 468.40 L1126.00 467.26 L1122.71 470.85 L1124.19 474.74 L1117.57 477.83 L1115.54 474.20 L1110.67 474.41 L1108.97 478.21 L1102.10 475.71 L1103.24 471.70 L1099.65 468.41 L1095.76 469.89 L1092.67 463.27 L1096.30 461.24 L1096.09 456.37 L1092.29 454.67 L1094.79 447.80 L1098.80 448.94 L1102.09 445.35 L1100.61 441.46 L1107.23 438.37 L1109.26 442.00 L1114.13 441.79 L1115.83 437.99 L1122.70 440.49 L1121.56 444.50 L1125.15 447.79 L1129.04 446.31 L1132.13 452.93 L1128.50 454.96 Z M1104.20 458.10 a8.20 8.20 0 1 0 16.40 0 a8.20 8.20 0 1 0 -16.40 0 Z" fill="#f8e596" stroke="#f8e596" stroke-width="1.4" stroke-linejoin="round" fill-rule="evenodd"/>
<path d="M1111.91 496.71 L1114.39 498.58 L1111.50 502.86 L1108.84 501.27 L1106.01 503.14 L1106.44 506.21 L1101.37 507.20 L1100.61 504.18 L1097.29 503.51 L1095.42 505.99 L1091.14 503.10 L1092.73 500.44 L1090.86 497.61 L1087.79 498.04 L1086.80 492.97 L1089.82 492.21 L1090.49 488.89 L1088.01 487.02 L1090.90 482.74 L1093.56 484.33 L1096.39 482.46 L1095.96 479.39 L1101.03 478.40 L1101.79 481.42 L1105.11 482.09 L1106.98 479.61 L1111.26 482.50 L1109.67 485.16 L1111.54 487.99 L1114.61 487.56 L1115.60 492.63 L1112.58 493.39 Z M1095.40 492.80 a5.80 5.80 0 1 0 11.60 0 a5.80 5.80 0 1 0 -11.60 0 Z" fill="#f8e596" stroke="#f8e596" stroke-width="1.2" stroke-linejoin="round" fill-rule="evenodd"/>
<path d="M1060.7 437.1 C1075.6 437.1 1084.5 448.5 1084.5 460.5 C1084.5 474 1073.6 481 1072.6 493.2 L1049.4 493.2 C1048.4 481 1036.8 474 1036.8 460.5 C1036.8 448.5 1045.8 437.1 1060.7 437.1 Z" fill="url(#bulbLg)" stroke="#fffdf2" stroke-width="5" stroke-linejoin="round"/>
<path d="M1054.5 489 L1053 470 C1052 466 1051 463.5 1054 463 L1057 463.6 L1058.6 489 M1066 489 L1068 470 C1069 466 1070.5 465 1067.5 463.6 L1064.6 462.4 L1062.8 489" fill="none" stroke="#fff3a0" stroke-width="2.2" stroke-linejoin="round"/>
<path d="M1056 463 C1057 459.5 1064 459 1066.5 463 L1065 489 L1057 489 Z" fill="#fbd430" fill-opacity="0.8"/>
<path d="M1048.9 493.2 H1074.8 V504.5 C1074.8 506 1072 507.6 1070.5 508.4 L1064.4 512 C1062.4 513 1060.6 513 1058.8 512 L1053 508.4 C1051.4 507.6 1048.9 506 1048.9 504.5 Z" fill="#fdf4d6"/>
<line x1="1048.9" y1="496.9" x2="1074.8" y2="496.9" stroke="#ef8e14" stroke-width="1.3"/>
<line x1="1048.9" y1="500.4" x2="1074.8" y2="500.4" stroke="#ef8e14" stroke-width="1.3"/>
<line x1="1048.9" y1="503.8" x2="1074.8" y2="503.8" stroke="#ef8e14" stroke-width="1.3"/>
</g>
<g>
<g>
<path d="M396.4 481.5 L399.6 472.6 L402.6 473.6 L400.2 482.6 Z" fill="#3f8cc2"/>
<path d="M351.6 474.6 C352.6 479 355 481.4 358.6 482.4" fill="none" stroke="#ffffff" stroke-width="1.8" stroke-linecap="round"/>
<path d="M352.4 476.4 C356 481.6 361 484.6 368 485.2 L386 485.2 C392 484.8 396.6 483 399.6 479.6" fill="none" stroke="#c9d3dc" stroke-width="2.2" stroke-linecap="round"/>
<rect x="373.4" y="448.6" width="3" height="7.4" fill="#f4f6f8"/>
<circle cx="374.8" cy="445.2" r="4.7" fill="#ffffff" stroke="#b84040" stroke-opacity="0.5" stroke-width="0.6"/>
<path d="M348.2 517.3 L349.6 503 C350.6 494.5 356 489.8 364 488.6 L390 488.6 C395.6 489 398.6 491 399.4 495 L398.6 517.3 Z" fill="#ffffff"/>
<path d="M388 488.8 C394.6 489.4 398.6 491 399.4 495 L398.6 517.3 L386 517.3 C389.5 508 390.5 498 388 488.8 Z" fill="#8fc8e6"/>
<path d="M350.8 500.5 L356.6 500.5 L356.6 517.3 L349 517.3 Z" fill="#dfe7ee"/>
<rect x="356.2" y="500.6" width="2.6" height="16.7" fill="#5a636e"/>
<path d="M353.6 504.2 L350.6 504.2 L350.6 509.4 L353.6 509.4" fill="none" stroke="#5a636e" stroke-width="1.6"/>
<rect x="370.6" y="482.8" width="12.4" height="8.4" rx="1.5" fill="#f2f5f8" stroke="#8a949e" stroke-width="0.8"/>
<path d="M357.6 474.5 C357.6 461 366 453.4 376.3 453.4 C386.8 453.4 395.1 461 395.1 474.5 C395.1 480.5 391 483.6 385 483.9 L367.6 483.9 C361.6 483.6 357.6 480.5 357.6 474.5 Z" fill="#ffffff" stroke="#b84040" stroke-opacity="0.45" stroke-width="0.7"/>
<path d="M357.9 478 C360 482.6 365 483.9 370 483.9 L385 483.9 C390 483.9 394 482 395 477.5" fill="none" stroke="#6a7480" stroke-width="1.1"/>
<path d="M363.6 471.6 C363.6 466.6 367.4 464.6 371.4 465 C374 465.2 375.2 466.6 376.3 466.6 C377.4 466.6 378.8 465.2 381.4 465 C385.4 464.6 388.8 466.6 388.8 471.6 C388.8 475.6 386 476.9 382.6 476.9 L369.8 476.9 C366.4 476.9 363.6 475.6 363.6 471.6 Z" fill="#3a3e44"/>
</g>
<g>
<path d="M470.6 443.6 C483 443.6 490.4 452 490.6 463 C490.8 470 492.8 476.4 492.2 481.6 C491.6 486.2 487.6 488.4 483.2 488 L459.4 488 C454.6 488.4 449.8 486.2 449.2 481.6 C448.6 476.4 451.6 470 451.8 463 C452 452 458.6 443.6 470.6 443.6 Z" fill="#3f2b2b" stroke="#e8a0a0" stroke-opacity="0.55" stroke-width="0.9"/>
<path d="M462.4 486.2 L467 482.6 L467 476 L476.6 476 L476.6 482.6 L482 486.2 L483.6 489.4 L472.6 498.6 L461 489.4 Z" fill="#f7dcc2"/>
<path d="M459.6 466 C459.6 461.6 460.6 459.4 462.8 458.6 C469 458.2 474.8 456.6 478.6 455.2 C482 457.6 483.6 461 483.6 466 C483.6 474.5 478.2 481 471.4 481 C464.8 481 459.6 474.5 459.6 466 Z" fill="#f8e2c8"/>
</g>
<g>
<path d="M485 502.8 L485 498.6 Q485 497 486.6 497 L507 497 Q508.6 497 508.6 498.6 L508.6 502.8" fill="#c23a34" stroke="#4e3a4e" stroke-width="1.8"/>
<rect x="484.2" y="498.4" width="2.2" height="4.4" fill="#5a86b8"/>
<rect x="507.2" y="498.4" width="2.2" height="4.4" fill="#5a86b8"/>
<rect x="482.4" y="502.6" width="29.4" height="14.2" rx="1" fill="#b57e5c"/>
<rect x="482.4" y="502.6" width="29.4" height="3.2" fill="#c08a66"/>
<rect x="491" y="503.8" width="6.4" height="2.2" fill="#f3e4d4"/>
</g>
<g>
<path d="M389.4 517.3 C390.6 503 394 491.5 403.6 487.6 L407.6 487 L406 517.3 Z" fill="#f8db22" stroke="#3a2622" stroke-width="1.1"/>
<path d="M441.6 487 L445 487.8 C453.6 491.5 457.6 503 459.2 517.3 L444.6 517.3 Z" fill="#86cbe8" stroke="#3a2622" stroke-width="1.1"/>
<path d="M414.5 478 L430 478 L431.6 486 L413 486 Z" fill="#e06a2c"/>
<path d="M403.9 517.3 L405 488.6 L414.6 482.4 L431.2 482.4 L441.8 488.6 L443.2 517.3 Z" fill="#fbab20" stroke="#3a2622" stroke-width="1.2" stroke-linejoin="round"/>
<path d="M415.6 483.4 L423.8 495.8 L432.4 483.4 L428.6 482.2 L423.8 486.5 L419 482.2 Z" fill="#4fb2d4" stroke="#2e6f58" stroke-width="0.9" stroke-linejoin="round"/>
<path d="M406.6 488.6 L406.2 517.3" fill="none" stroke="#6e5a1c" stroke-width="1.8"/>
<path d="M441.4 488.6 L442 517.3" fill="none" stroke="#b8791a" stroke-width="1.2"/>
<rect x="413.8" y="505.3" width="21.2" height="3.3" rx="0.8" fill="#4a3a1c"/>
<rect x="417.2" y="506.1" width="2.4" height="1.7" fill="#efe6c8"/>
<rect x="421.0" y="506.1" width="2.4" height="1.7" fill="#efe6c8"/>
<rect x="428.6" y="506.1" width="2.4" height="1.7" fill="#efe6c8"/>
<rect x="423.8" y="506.1" width="3.8" height="1.7" fill="#b9ad86"/>
<path d="M410.6 458 C405.6 457.6 402.4 459.8 403 463 C403.6 466.6 407 468.6 411 468 Z" fill="#f4f4f0" stroke="#3a2622" stroke-width="0.9"/>
<path d="M435.2 458 C440 457.6 442.6 459.8 442.2 463 C441.6 466.6 438.6 468.6 435 468 Z" fill="#f4f4f0" stroke="#3a2622" stroke-width="0.9"/>
<path d="M410.6 457.4 L435.4 457.4 L435.4 466 C435.4 474 430 479.4 423 479.4 C416 479.4 410.6 474 410.6 466 Z" fill="#fbe9d2" stroke="#3a2622" stroke-width="1.5" stroke-linejoin="round"/>
<rect x="418.8" y="434.2" width="4.6" height="5.6" fill="#d9a62a" stroke="#3a2622" stroke-width="0.7"/>
<circle cx="420.9" cy="431.1" r="4.1" fill="#f6d648" stroke="#a2602a" stroke-width="0.7"/>
<path d="M403.6 455 C403.6 445.6 411.4 438.4 422 438.4 C432.8 438.4 440.6 445.6 440.8 455 Z" fill="#fcc81e" stroke="#3a2622" stroke-width="1.1"/>
<path d="M406 452.6 C407.6 445.6 413.6 441 420.6 440.4 C414.6 443 410.6 447.6 409.6 452.6 Z" fill="#ffe25a" fill-opacity="0.8"/>
<path d="M400.6 455.8 C400.6 454.2 402 453.4 403.6 453.4 L440.8 453.4 C442.6 453.4 443.8 454.2 443.8 455.8 C443.8 457.2 442.6 457.8 440.8 457.8 L403.6 457.8 C402 457.8 400.6 457.2 400.6 455.8 Z" fill="#f7b61a" stroke="#3a2622" stroke-width="1.0"/>
<path d="M408.6 457.9 L437.6 457.9 L436.4 460 L409.8 460 Z" fill="#a85c24" fill-opacity="0.55"/>
</g>
</g>
<defs><linearGradient id="lgHeart" x1="0" y1="0" x2="0.3" y2="1"><stop offset="0" stop-color="#6c4cb6"/><stop offset="1" stop-color="#563a94"/></linearGradient><radialGradient id="lgBulb" cx="0.38" cy="0.3" r="0.75"><stop offset="0" stop-color="#fff690"/><stop offset="0.5" stop-color="#fde62e"/><stop offset="1" stop-color="#fbc81a"/></radialGradient><linearGradient id="lgBase" x1="0" y1="0" x2="0" y2="1"><stop offset="0" stop-color="#f0b02a"/><stop offset="1" stop-color="#c8860e"/></linearGradient></defs>
<path d="M448.4 989.4 C440 982.6 431 977.5 431 969.6 C431 964.6 435 961.6 439.6 961.6 C443.4 961.6 446.6 963.4 448.4 966.4 C450.2 963.2 453.6 961.4 457.4 961.4 C462 961.4 465.4 964.6 465.4 969.6 C465.4 977.5 456.6 982.6 448.4 989.4 Z" fill="url(#lgHeart)"/>
<circle cx="461.9" cy="988.2" r="3.4" fill="none" stroke="#8066c6" stroke-width="1.8"/>
<path d="M464.2 985.4 L473.2 972.6 M472.8 973.4 L468 972.2" fill="none" stroke="#8066c6" stroke-width="1.9" stroke-linecap="round"/>
<path d="M616.1 953.4 C625.6 953.4 631 960.4 631 967.8 C631 975.6 624.6 979.6 623 984.6 L609.6 984.6 C608 979.6 601.4 975.6 601.4 967.8 C601.4 960.4 606.6 953.4 616.1 953.4 Z" fill="url(#lgBulb)" stroke="#f1a21c" stroke-width="2.6" stroke-linejoin="round"/>
<path d="M606.4 963.6 C607.8 959.4 611.6 957 615.6 956.8" fill="none" stroke="#fffbd0" stroke-width="2.2" stroke-linecap="round" stroke-opacity="0.85"/>
<line x1="617" y1="966.2" x2="617" y2="983.4" stroke="#fff6a8" stroke-width="1.8"/>
<path d="M609.2 985 L623.4 985 L623 993.2 L616.7 997.9 L610 993.2 Z" fill="url(#lgBase)"/>
<path d="M609.2 987.6 L623.4 985.8 M609.4 990.6 L623.2 988.8 M609.8 993.4 L623 991.6" stroke="#8e5c0c" stroke-width="1" fill="none"/>
<path d="M609.2 986.4 L623.4 984.6 M609.4 989.4 L623.2 987.6" stroke="#fff0b0" stroke-width="0.9" fill="none"/>
<g transform="translate(793.2 974.6) scale(1 0.93)"><path d="M-3.49 -15.61 L-3.37 -20.53 L3.37 -20.53 L3.49 -15.61 L8.57 -13.51 L12.13 -16.90 L16.90 -12.13 L13.51 -8.57 L15.61 -3.49 L20.53 -3.37 L20.53 3.37 L15.61 3.49 L13.51 8.57 L16.90 12.13 L12.13 16.90 L8.57 13.51 L3.49 15.61 L3.37 20.53 L-3.37 20.53 L-3.49 15.61 L-8.57 13.51 L-12.13 16.90 L-16.90 12.13 L-13.51 8.57 L-15.61 3.49 L-20.53 3.37 L-20.53 -3.37 L-15.61 -3.49 L-13.51 -8.57 L-16.90 -12.13 L-12.13 -16.90 L-8.57 -13.51 Z M-8.90 0.00 a8.90 8.90 0 1 0 17.80 0 a8.90 8.90 0 1 0 -17.80 0 Z" fill="url(#gearLg)" stroke="url(#gearLg)" stroke-width="1.6" stroke-linejoin="round" fill-rule="evenodd"/></g>
<path d="M970.8 954.4 L977.1 964.4 L965.1 964.4 Z" fill="#dc4128" stroke="#dc4128" stroke-width="0.8" stroke-linejoin="round"/>
<path d="M954.3 966.1 L986.8 966.1 L988.3 991 L952.3 991 Z" fill="#e04a2c"/>
<rect x="947.1" y="990.4" width="43.8" height="4.3" rx="2" fill="#e04a2c"/>
<rect x="960.1" y="970.7" width="2.3" height="4.4" rx="1" fill="#fde6d4"/>
<rect x="968.3" y="970.7" width="3.1" height="4.4" rx="1" fill="#fde6d4"/>
<rect x="976.9" y="970.7" width="2.7" height="4.4" rx="1" fill="#fde6d4"/>
<rect x="959.4" y="980.6" width="2.7" height="8.0" rx="1" fill="#fde6d4"/>
<rect x="967.8" y="980.6" width="2.9" height="8.0" rx="1" fill="#fde6d4"/>
<rect x="976.2" y="980.6" width="2.7" height="8.0" rx="1" fill="#fde6d4"/>
<text x="463.8" y="76.6" font-size="47.0" font-weight="normal" fill="#2f3341" textLength="561.0" lengthAdjust="spacing" stroke="#2f3341" stroke-width="0.90" stroke-linejoin="round">The Four Realms of PKOS</text>
<g filter="url(#tsh)">
<text x="676.2" y="261.3" font-size="34.5" font-weight="bold" fill="#ffffff" textLength="104.3" lengthAdjust="spacing">SOUL</text>
<text x="374.9" y="556.7" font-size="34.4" font-weight="bold" fill="#ffffff" textLength="111.5" lengthAdjust="spacingAndGlyphs">BODY</text>
<text x="1010.8" y="556.7" font-size="34.4" font-weight="bold" fill="#ffffff" textLength="110.7" lengthAdjust="spacingAndGlyphs">MIND</text>
<text x="680.8" y="842.6" font-size="34.4" font-weight="bold" fill="#ffffff" textLength="112.1" lengthAdjust="spacingAndGlyphs">LOGIC</text>
<text x="690.8" y="560.8" font-size="33.0" font-weight="bold" fill="#ffffff" textLength="91.3" lengthAdjust="spacingAndGlyphs">LABS</text>
</g>
<g filter="url(#tsh)">
<text x="654.7" y="296.4" font-size="17.6" font-weight="normal" fill="#f7eafa" textLength="71.3" lengthAdjust="spacingAndGlyphs" stroke="#f7eafa" stroke-width="0.40" stroke-linejoin="round">ETHICS</text>
<rect x="734.3" y="289.3" width="4.7" height="3.0" rx="1.3" fill="#f7eafa"/>
<text x="746.1" y="296.4" font-size="17.6" font-weight="normal" fill="#f7eafa" textLength="46.1" lengthAdjust="spacingAndGlyphs" stroke="#f7eafa" stroke-width="0.40" stroke-linejoin="round">LAW</text>
<rect x="794.1" y="289.3" width="5.0" height="3.0" rx="1.3" fill="#f7eafa"/>
<text x="681.7" y="318.8" font-size="18.2" font-weight="normal" fill="#f7eafa" textLength="92.6" lengthAdjust="spacingAndGlyphs" stroke="#f7eafa" stroke-width="0.40" stroke-linejoin="round">MEMORY</text>
<text x="337.4" y="589.7" font-size="18.4" font-weight="normal" fill="#fdefe8" textLength="73.4" lengthAdjust="spacingAndGlyphs" stroke="#fdefe8" stroke-width="0.40" stroke-linejoin="round">AGENTS</text>
<rect x="415.9" y="582.8" width="4.6" height="3.0" rx="1.3" fill="#fdefe8"/>
<text x="425.0" y="589.7" font-size="18.4" font-weight="normal" fill="#fdefe8" textLength="90.3" lengthAdjust="spacingAndGlyphs" stroke="#fdefe8" stroke-width="0.40" stroke-linejoin="round">PROJECTS</text>
<text x="393.4" y="611.7" font-size="17.6" font-weight="normal" fill="#fdefe8" textLength="71.1" lengthAdjust="spacingAndGlyphs" stroke="#fdefe8" stroke-width="0.40" stroke-linejoin="round">ASSETS</text>
<text x="979.3" y="590.0" font-size="18.2" font-weight="normal" fill="#fff4d8" textLength="68.6" lengthAdjust="spacing" stroke="#fff4d8" stroke-width="0.40" stroke-linejoin="round">INTENT</text>
<rect x="1050.7" y="583.0" width="5.9" height="3.4" rx="1.3" fill="#fff4d8"/>
<text x="1061.1" y="590.0" font-size="18.2" font-weight="normal" fill="#fff4d8" textLength="95.5" lengthAdjust="spacingAndGlyphs" stroke="#fff4d8" stroke-width="0.40" stroke-linejoin="round">DIALOGUE</text>
<text x="1007.7" y="612.0" font-size="17.8" font-weight="normal" fill="#fff4d8" textLength="123.7" lengthAdjust="spacingAndGlyphs" stroke="#fff4d8" stroke-width="0.40" stroke-linejoin="round">REFLECTION</text>
<text x="652.7" y="875.8" font-size="17.4" font-weight="normal" fill="#ebfbdc" textLength="91.3" lengthAdjust="spacing" stroke="#ebfbdc" stroke-width="0.40" stroke-linejoin="round">SCHEMAS</text>
<rect x="749.1" y="868.7" width="5.2" height="3.0" rx="1.3" fill="#ebfbdc"/>
<text x="759.4" y="875.8" font-size="17.4" font-weight="normal" fill="#ebfbdc" textLength="63.0" lengthAdjust="spacing" stroke="#ebfbdc" stroke-width="0.40" stroke-linejoin="round">TOOLS</text>
<text x="669.2" y="897.3" font-size="17.4" font-weight="normal" fill="#ebfbdc" textLength="141.8" lengthAdjust="spacingAndGlyphs" stroke="#ebfbdc" stroke-width="0.40" stroke-linejoin="round">COMPUTATION</text>
<text x="675.7" y="590.2" font-size="17.2" font-weight="normal" fill="#e2f7fb" textLength="121.3" lengthAdjust="spacingAndGlyphs" stroke="#e2f7fb" stroke-width="0.30" stroke-linejoin="round">EXPERIMENTS</text>
<rect x="689.0" y="601.0" width="4.1" height="1.8" rx="1.3" fill="#e2f7fb"/>
<text x="696.6" y="607.6" font-size="15.4" font-weight="normal" fill="#e2f7fb" textLength="86.4" lengthAdjust="spacingAndGlyphs" stroke="#e2f7fb" stroke-width="0.15" stroke-linejoin="round">SCENARIOS</text>
</g>
<text x="475.5" y="982.1" font-size="23.0" font-weight="normal" fill="#3b4050" textLength="67.3" lengthAdjust="spacing" stroke="#3b4050" stroke-width="0.35" stroke-linejoin="round">SOUL</text>
<text x="643.8" y="981.5" font-size="23.0" font-weight="normal" fill="#3b4050" textLength="71.2" lengthAdjust="spacingAndGlyphs" stroke="#3b4050" stroke-width="0.35" stroke-linejoin="round">MIND</text>
<text x="825.4" y="981.5" font-size="23.0" font-weight="normal" fill="#3b4050" textLength="76.5" lengthAdjust="spacing" stroke="#3b4050" stroke-width="0.35" stroke-linejoin="round">LOGIC</text>
<text x="996.2" y="981.3" font-size="22.6" font-weight="normal" fill="#3b4050" textLength="69.1" lengthAdjust="spacing" stroke="#3b4050" stroke-width="0.35" stroke-linejoin="round">BODY</text>
</svg>
</body>
</html>
